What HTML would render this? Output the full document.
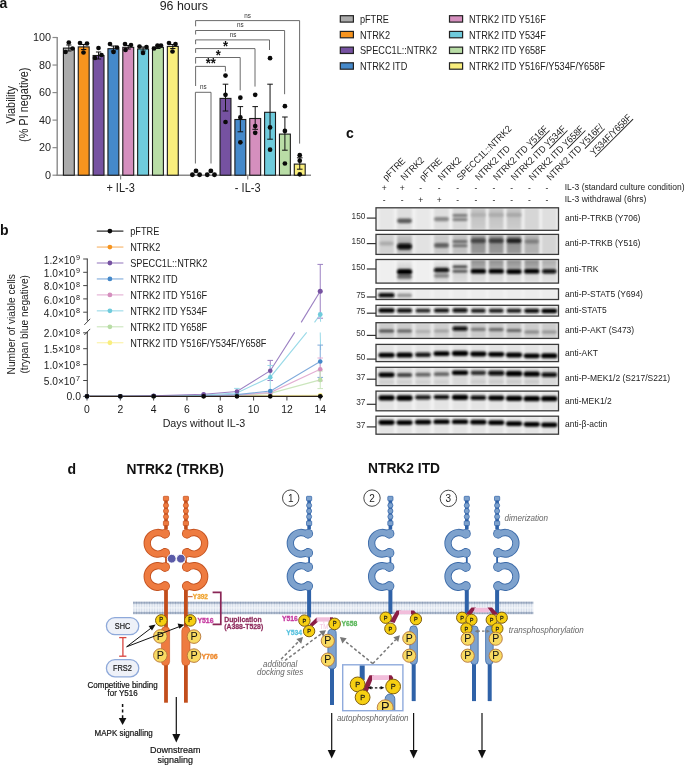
<!DOCTYPE html>
<html><head><meta charset="utf-8"><title>Figure</title><style>
html,body{margin:0;padding:0;background:#fff;}
svg{display:block;opacity:0.999;font-family:"Liberation Sans",sans-serif;}
</style></head><body>
<svg width="685" height="765" viewBox="0 0 685 765">
<defs>
<filter id="bl1" x="-20%" y="-20%" width="140%" height="140%"><feGaussianBlur stdDeviation="1.1"/></filter>
<filter id="bl2" x="-20%" y="-50%" width="140%" height="200%"><feGaussianBlur stdDeviation="0.85"/></filter>
<pattern id="memb" x="0" y="601.6" width="2.6" height="12.6" patternUnits="userSpaceOnUse"><rect width="2.6" height="12.6" fill="#EDF1F7"/><rect x="0" y="5.9" width="2.6" height="0.9" fill="#F7F9FC"/><rect x="0.85" y="2" width="0.9" height="3.9" fill="#D3DCE9"/><rect x="0.85" y="6.8" width="0.9" height="3.8" fill="#D3DCE9"/><rect x="0" y="0.3" width="2.6" height="1.8" fill="#B6C2D4"/><rect x="0" y="10.5" width="2.6" height="1.8" fill="#B6C2D4"/><circle cx="1.3" cy="1.2" r="1.05" fill="#8495B0"/><circle cx="1.3" cy="11.4" r="1.05" fill="#8495B0"/></pattern>
<clipPath id="cr0"><rect x="376.0" y="207.8" width="182.5" height="22.5"/></clipPath>
<clipPath id="cr1"><rect x="376.0" y="234.4" width="182.5" height="20.0"/></clipPath>
<clipPath id="cr2"><rect x="376.0" y="259.5" width="182.5" height="23.600000000000023"/></clipPath>
<clipPath id="cr3"><rect x="376.0" y="288.8" width="182.5" height="10.699999999999989"/></clipPath>
<clipPath id="cr4"><rect x="376.0" y="305.3" width="182.5" height="10.800000000000011"/></clipPath>
<clipPath id="cr5"><rect x="376.0" y="322.7" width="182.5" height="15.699999999999989"/></clipPath>
<clipPath id="cr6"><rect x="376.0" y="344.4" width="182.5" height="17.200000000000045"/></clipPath>
<clipPath id="cr7"><rect x="376.0" y="367.3" width="182.5" height="18.30000000000001"/></clipPath>
<clipPath id="cr8"><rect x="376.0" y="391.1" width="182.5" height="19.69999999999999"/></clipPath>
<clipPath id="cr9"><rect x="376.0" y="416.2" width="182.5" height="18.0"/></clipPath>
<linearGradient id="g0_5" x1="0" y1="0" x2="0" y2="1"><stop offset="0" stop-color="#c4c4c4"/><stop offset="0.3" stop-color="#c2c2c2"/><stop offset="1" stop-color="#cdcdcd"/></linearGradient>
<linearGradient id="g0_6" x1="0" y1="0" x2="0" y2="1"><stop offset="0" stop-color="#c4c4c4"/><stop offset="0.3" stop-color="#c2c2c2"/><stop offset="1" stop-color="#cdcdcd"/></linearGradient>
<linearGradient id="g0_7" x1="0" y1="0" x2="0" y2="1"><stop offset="0" stop-color="#c4c4c4"/><stop offset="0.3" stop-color="#c2c2c2"/><stop offset="1" stop-color="#cdcdcd"/></linearGradient>
<linearGradient id="g1_1" x1="0" y1="0" x2="0" y2="1"><stop offset="0" stop-color="#c8c8c8"/><stop offset="0.5" stop-color="#a8a8a8"/><stop offset="1" stop-color="#c4c4c4"/></linearGradient>
<linearGradient id="g1_5" x1="0" y1="0" x2="0" y2="1"><stop offset="0" stop-color="#a2a2a2"/><stop offset="0.35" stop-color="#8c8c8c"/><stop offset="1" stop-color="#9c9c9c"/></linearGradient>
<linearGradient id="g1_6" x1="0" y1="0" x2="0" y2="1"><stop offset="0" stop-color="#a2a2a2"/><stop offset="0.35" stop-color="#8c8c8c"/><stop offset="1" stop-color="#9c9c9c"/></linearGradient>
<linearGradient id="g1_7" x1="0" y1="0" x2="0" y2="1"><stop offset="0" stop-color="#a2a2a2"/><stop offset="0.35" stop-color="#8c8c8c"/><stop offset="1" stop-color="#9c9c9c"/></linearGradient>
<linearGradient id="g2_1" x1="0" y1="0" x2="0" y2="1"><stop offset="0" stop-color="#ececec"/><stop offset="0.4" stop-color="#cfcfcf"/><stop offset="1" stop-color="#dedede"/></linearGradient>
<linearGradient id="g2_3" x1="0" y1="0" x2="0" y2="1"><stop offset="0" stop-color="#ececec"/><stop offset="0.4" stop-color="#cfcfcf"/><stop offset="1" stop-color="#dedede"/></linearGradient>
<linearGradient id="g2_4" x1="0" y1="0" x2="0" y2="1"><stop offset="0" stop-color="#ececec"/><stop offset="0.4" stop-color="#cfcfcf"/><stop offset="1" stop-color="#dedede"/></linearGradient>
<linearGradient id="g2_5" x1="0" y1="0" x2="0" y2="1"><stop offset="0" stop-color="#8e8e8e"/><stop offset="0.3" stop-color="#a6a6a6"/><stop offset="0.48" stop-color="#c0c0c0"/><stop offset="0.62" stop-color="#d6d6d6"/><stop offset="1" stop-color="#e2e2e2"/></linearGradient>
<linearGradient id="g2_6" x1="0" y1="0" x2="0" y2="1"><stop offset="0" stop-color="#8e8e8e"/><stop offset="0.3" stop-color="#a6a6a6"/><stop offset="0.48" stop-color="#c0c0c0"/><stop offset="0.62" stop-color="#d6d6d6"/><stop offset="1" stop-color="#e2e2e2"/></linearGradient>
<linearGradient id="g2_7" x1="0" y1="0" x2="0" y2="1"><stop offset="0" stop-color="#8e8e8e"/><stop offset="0.3" stop-color="#a6a6a6"/><stop offset="0.48" stop-color="#c0c0c0"/><stop offset="0.62" stop-color="#d6d6d6"/><stop offset="1" stop-color="#e2e2e2"/></linearGradient>
<linearGradient id="g2_8" x1="0" y1="0" x2="0" y2="1"><stop offset="0" stop-color="#8e8e8e"/><stop offset="0.3" stop-color="#a6a6a6"/><stop offset="0.48" stop-color="#c0c0c0"/><stop offset="0.62" stop-color="#d6d6d6"/><stop offset="1" stop-color="#e2e2e2"/></linearGradient>
<linearGradient id="g2_9" x1="0" y1="0" x2="0" y2="1"><stop offset="0" stop-color="#aaaaaa"/><stop offset="0.3" stop-color="#bcbcbc"/><stop offset="0.48" stop-color="#cccccc"/><stop offset="0.62" stop-color="#dcdcdc"/><stop offset="1" stop-color="#e4e4e4"/></linearGradient>
</defs>
<rect width="685" height="765" fill="#fff"/>
<text x="-0.6" y="7.9" font-size="14" font-weight="bold" fill="#111">a</text>
<text transform="translate(183.80,10.40) scale(0.92,1)" font-size="13.48" text-anchor="middle" fill="#222">96 hours</text>
<line x1="57.2" y1="37.0" x2="57.2" y2="175.9" stroke="#8a8a8a" stroke-width="1.4"/>
<line x1="56.5" y1="175.2" x2="311" y2="175.2" stroke="#8a8a8a" stroke-width="1.4"/>
<line x1="52.5" y1="175.2" x2="57.2" y2="175.2" stroke="#8a8a8a" stroke-width="1.2"/>
<text x="50.9" y="179.0" font-size="10.8" text-anchor="end" fill="#222">0</text>
<line x1="52.5" y1="147.66" x2="57.2" y2="147.66" stroke="#8a8a8a" stroke-width="1.2"/>
<text x="50.9" y="151.46" font-size="10.8" text-anchor="end" fill="#222">20</text>
<line x1="52.5" y1="120.11999999999999" x2="57.2" y2="120.11999999999999" stroke="#8a8a8a" stroke-width="1.2"/>
<text x="50.9" y="123.91999999999999" font-size="10.8" text-anchor="end" fill="#222">40</text>
<line x1="52.5" y1="92.57999999999998" x2="57.2" y2="92.57999999999998" stroke="#8a8a8a" stroke-width="1.2"/>
<text x="50.9" y="96.37999999999998" font-size="10.8" text-anchor="end" fill="#222">60</text>
<line x1="52.5" y1="65.03999999999999" x2="57.2" y2="65.03999999999999" stroke="#8a8a8a" stroke-width="1.2"/>
<text x="50.9" y="68.83999999999999" font-size="10.8" text-anchor="end" fill="#222">80</text>
<line x1="52.5" y1="37.5" x2="57.2" y2="37.5" stroke="#8a8a8a" stroke-width="1.2"/>
<text x="50.9" y="41.3" font-size="10.8" text-anchor="end" fill="#222">100</text>
<line x1="120.6" y1="175.2" x2="120.6" y2="179.5" stroke="#8a8a8a" stroke-width="1.2"/>
<line x1="247.7" y1="175.2" x2="247.7" y2="179.5" stroke="#8a8a8a" stroke-width="1.2"/>
<text transform="translate(120.60,191.70) scale(0.92,1)" font-size="11.96" text-anchor="middle" fill="#222">+ IL-3</text>
<text transform="translate(247.70,191.70) scale(0.92,1)" font-size="11.96" text-anchor="middle" fill="#222">- IL-3</text>
<text transform="translate(15.00,104.75) rotate(-90) scale(0.92,1)" font-size="11.85" text-anchor="middle" fill="#222">Viability</text>
<text transform="translate(27.80,104.75) rotate(-90) scale(0.92,1)" font-size="11.85" text-anchor="middle" fill="#222">(% PI negative)</text>
<rect x="63.39999999999999" y="48.1" width="10.9" height="127.1" fill="#ABABAB" stroke="#1a1a1a" stroke-width="1.1"/>
<rect x="78.24999999999999" y="46.9" width="10.9" height="128.29999999999998" fill="#F7941E" stroke="#1a1a1a" stroke-width="1.1"/>
<rect x="93.1" y="55.5" width="10.9" height="119.69999999999999" fill="#7652A1" stroke="#1a1a1a" stroke-width="1.1"/>
<rect x="107.94999999999999" y="48.7" width="10.9" height="126.49999999999999" fill="#4589CA" stroke="#1a1a1a" stroke-width="1.1"/>
<rect x="122.8" y="47.3" width="10.9" height="127.89999999999999" fill="#D58FBE" stroke="#1a1a1a" stroke-width="1.1"/>
<rect x="137.65" y="49.0" width="10.9" height="126.19999999999999" fill="#6FCBDC" stroke="#1a1a1a" stroke-width="1.1"/>
<rect x="152.5" y="47.3" width="10.9" height="127.89999999999999" fill="#B9DDA6" stroke="#1a1a1a" stroke-width="1.1"/>
<rect x="167.35000000000002" y="46.4" width="10.9" height="128.79999999999998" fill="#F9EE7D" stroke="#1a1a1a" stroke-width="1.1"/>
<line x1="68.85" y1="45" x2="68.85" y2="51" stroke="#111" stroke-width="1"/>
<line x1="66.25" y1="45" x2="71.44999999999999" y2="45" stroke="#111" stroke-width="1"/>
<line x1="66.25" y1="51" x2="71.44999999999999" y2="51" stroke="#111" stroke-width="1"/>
<circle cx="68.8" cy="42.5" r="2.35" fill="#0a0a0a" stroke="none" stroke-width="1"/>
<circle cx="72.5" cy="48.5" r="2.35" fill="#0a0a0a" stroke="none" stroke-width="1"/>
<circle cx="65.5" cy="52" r="2.35" fill="#0a0a0a" stroke="none" stroke-width="1"/>
<line x1="83.69999999999999" y1="44.5" x2="83.69999999999999" y2="49.5" stroke="#111" stroke-width="1"/>
<line x1="81.1" y1="44.5" x2="86.29999999999998" y2="44.5" stroke="#111" stroke-width="1"/>
<line x1="81.1" y1="49.5" x2="86.29999999999998" y2="49.5" stroke="#111" stroke-width="1"/>
<circle cx="80" cy="43" r="2.35" fill="#0a0a0a" stroke="none" stroke-width="1"/>
<circle cx="87" cy="43.5" r="2.35" fill="#0a0a0a" stroke="none" stroke-width="1"/>
<circle cx="83.5" cy="52.5" r="2.35" fill="#0a0a0a" stroke="none" stroke-width="1"/>
<line x1="98.55" y1="52" x2="98.55" y2="59" stroke="#111" stroke-width="1"/>
<line x1="95.95" y1="52" x2="101.14999999999999" y2="52" stroke="#111" stroke-width="1"/>
<line x1="95.95" y1="59" x2="101.14999999999999" y2="59" stroke="#111" stroke-width="1"/>
<circle cx="98.5" cy="48" r="2.35" fill="#0a0a0a" stroke="none" stroke-width="1"/>
<circle cx="101.5" cy="55" r="2.35" fill="#0a0a0a" stroke="none" stroke-width="1"/>
<circle cx="95" cy="58" r="2.35" fill="#0a0a0a" stroke="none" stroke-width="1"/>
<line x1="113.39999999999999" y1="46" x2="113.39999999999999" y2="51" stroke="#111" stroke-width="1"/>
<line x1="110.8" y1="46" x2="115.99999999999999" y2="46" stroke="#111" stroke-width="1"/>
<line x1="110.8" y1="51" x2="115.99999999999999" y2="51" stroke="#111" stroke-width="1"/>
<circle cx="110" cy="44" r="2.35" fill="#0a0a0a" stroke="none" stroke-width="1"/>
<circle cx="117" cy="47.5" r="2.35" fill="#0a0a0a" stroke="none" stroke-width="1"/>
<circle cx="113.5" cy="52" r="2.35" fill="#0a0a0a" stroke="none" stroke-width="1"/>
<line x1="128.25" y1="45.5" x2="128.25" y2="49" stroke="#111" stroke-width="1"/>
<line x1="125.65" y1="45.5" x2="130.85" y2="45.5" stroke="#111" stroke-width="1"/>
<line x1="125.65" y1="49" x2="130.85" y2="49" stroke="#111" stroke-width="1"/>
<circle cx="125" cy="44" r="2.35" fill="#0a0a0a" stroke="none" stroke-width="1"/>
<circle cx="131" cy="45" r="2.35" fill="#0a0a0a" stroke="none" stroke-width="1"/>
<circle cx="125.5" cy="50" r="2.35" fill="#0a0a0a" stroke="none" stroke-width="1"/>
<line x1="143.1" y1="47" x2="143.1" y2="51" stroke="#111" stroke-width="1"/>
<line x1="140.5" y1="47" x2="145.7" y2="47" stroke="#111" stroke-width="1"/>
<line x1="140.5" y1="51" x2="145.7" y2="51" stroke="#111" stroke-width="1"/>
<circle cx="139.5" cy="46.5" r="2.35" fill="#0a0a0a" stroke="none" stroke-width="1"/>
<circle cx="146.5" cy="47" r="2.35" fill="#0a0a0a" stroke="none" stroke-width="1"/>
<circle cx="143" cy="53" r="2.35" fill="#0a0a0a" stroke="none" stroke-width="1"/>
<line x1="157.95" y1="46" x2="157.95" y2="48.5" stroke="#111" stroke-width="1"/>
<line x1="155.35" y1="46" x2="160.54999999999998" y2="46" stroke="#111" stroke-width="1"/>
<line x1="155.35" y1="48.5" x2="160.54999999999998" y2="48.5" stroke="#111" stroke-width="1"/>
<circle cx="154" cy="48.5" r="2.35" fill="#0a0a0a" stroke="none" stroke-width="1"/>
<circle cx="157.5" cy="45.5" r="2.35" fill="#0a0a0a" stroke="none" stroke-width="1"/>
<circle cx="161" cy="45.5" r="2.35" fill="#0a0a0a" stroke="none" stroke-width="1"/>
<line x1="172.8" y1="44.5" x2="172.8" y2="48.5" stroke="#111" stroke-width="1"/>
<line x1="170.20000000000002" y1="44.5" x2="175.4" y2="44.5" stroke="#111" stroke-width="1"/>
<line x1="170.20000000000002" y1="48.5" x2="175.4" y2="48.5" stroke="#111" stroke-width="1"/>
<circle cx="169" cy="43" r="2.35" fill="#0a0a0a" stroke="none" stroke-width="1"/>
<circle cx="175.5" cy="44" r="2.35" fill="#0a0a0a" stroke="none" stroke-width="1"/>
<circle cx="172.5" cy="51.5" r="2.35" fill="#0a0a0a" stroke="none" stroke-width="1"/>
<rect x="220.05" y="98.4" width="10.9" height="76.79999999999998" fill="#7652A1" stroke="#1a1a1a" stroke-width="1.1"/>
<rect x="234.90000000000003" y="119.5" width="10.9" height="55.69999999999999" fill="#4589CA" stroke="#1a1a1a" stroke-width="1.1"/>
<rect x="249.75000000000003" y="118.5" width="10.9" height="56.69999999999999" fill="#D58FBE" stroke="#1a1a1a" stroke-width="1.1"/>
<rect x="264.6" y="112.3" width="10.9" height="62.89999999999999" fill="#6FCBDC" stroke="#1a1a1a" stroke-width="1.1"/>
<rect x="279.45" y="134.1" width="10.9" height="41.099999999999994" fill="#B9DDA6" stroke="#1a1a1a" stroke-width="1.1"/>
<rect x="294.3" y="164.1" width="10.9" height="11.099999999999994" fill="#F9EE7D" stroke="#1a1a1a" stroke-width="1.1"/>
<circle cx="192.4" cy="174.8" r="2.45" fill="#0a0a0a" stroke="none" stroke-width="1"/>
<circle cx="196.0" cy="170.9" r="2.45" fill="#0a0a0a" stroke="none" stroke-width="1"/>
<circle cx="199.6" cy="174.8" r="2.45" fill="#0a0a0a" stroke="none" stroke-width="1"/>
<circle cx="207.25" cy="174.8" r="2.45" fill="#0a0a0a" stroke="none" stroke-width="1"/>
<circle cx="210.85" cy="170.9" r="2.45" fill="#0a0a0a" stroke="none" stroke-width="1"/>
<circle cx="214.45" cy="174.8" r="2.45" fill="#0a0a0a" stroke="none" stroke-width="1"/>
<line x1="225.5" y1="84.2" x2="225.5" y2="111" stroke="#111" stroke-width="1"/>
<line x1="222.7" y1="84.2" x2="228.3" y2="84.2" stroke="#111" stroke-width="1"/>
<line x1="222.7" y1="111" x2="228.3" y2="111" stroke="#111" stroke-width="1"/>
<circle cx="225.5" cy="75.6" r="2.35" fill="#0a0a0a" stroke="none" stroke-width="1"/>
<circle cx="225.5" cy="94.8" r="2.35" fill="#0a0a0a" stroke="none" stroke-width="1"/>
<circle cx="225.5" cy="122" r="2.35" fill="#0a0a0a" stroke="none" stroke-width="1"/>
<line x1="240.35000000000002" y1="106.6" x2="240.35000000000002" y2="131.8" stroke="#111" stroke-width="1"/>
<line x1="237.55" y1="106.6" x2="243.15000000000003" y2="106.6" stroke="#111" stroke-width="1"/>
<line x1="237.55" y1="131.8" x2="243.15000000000003" y2="131.8" stroke="#111" stroke-width="1"/>
<circle cx="240.35000000000002" cy="97.7" r="2.35" fill="#0a0a0a" stroke="none" stroke-width="1"/>
<circle cx="240.35000000000002" cy="117.4" r="2.35" fill="#0a0a0a" stroke="none" stroke-width="1"/>
<circle cx="240.35000000000002" cy="142.3" r="2.35" fill="#0a0a0a" stroke="none" stroke-width="1"/>
<line x1="255.20000000000002" y1="106.6" x2="255.20000000000002" y2="129.3" stroke="#111" stroke-width="1"/>
<line x1="252.4" y1="106.6" x2="258.0" y2="106.6" stroke="#111" stroke-width="1"/>
<line x1="252.4" y1="129.3" x2="258.0" y2="129.3" stroke="#111" stroke-width="1"/>
<circle cx="255.20000000000002" cy="94.8" r="2.35" fill="#0a0a0a" stroke="none" stroke-width="1"/>
<circle cx="255.20000000000002" cy="126" r="2.35" fill="#0a0a0a" stroke="none" stroke-width="1"/>
<circle cx="255.20000000000002" cy="132.8" r="2.35" fill="#0a0a0a" stroke="none" stroke-width="1"/>
<line x1="270.05" y1="84.2" x2="270.05" y2="139.2" stroke="#111" stroke-width="1"/>
<line x1="267.25" y1="84.2" x2="272.85" y2="84.2" stroke="#111" stroke-width="1"/>
<line x1="267.25" y1="139.2" x2="272.85" y2="139.2" stroke="#111" stroke-width="1"/>
<circle cx="270.05" cy="58.2" r="2.35" fill="#0a0a0a" stroke="none" stroke-width="1"/>
<circle cx="270.05" cy="127.4" r="2.35" fill="#0a0a0a" stroke="none" stroke-width="1"/>
<circle cx="270.05" cy="149.7" r="2.35" fill="#0a0a0a" stroke="none" stroke-width="1"/>
<line x1="284.9" y1="117" x2="284.9" y2="150.2" stroke="#111" stroke-width="1"/>
<line x1="282.09999999999997" y1="117" x2="287.7" y2="117" stroke="#111" stroke-width="1"/>
<line x1="282.09999999999997" y1="150.2" x2="287.7" y2="150.2" stroke="#111" stroke-width="1"/>
<circle cx="284.9" cy="106.2" r="2.35" fill="#0a0a0a" stroke="none" stroke-width="1"/>
<circle cx="284.9" cy="130.9" r="2.35" fill="#0a0a0a" stroke="none" stroke-width="1"/>
<circle cx="284.9" cy="163.5" r="2.35" fill="#0a0a0a" stroke="none" stroke-width="1"/>
<line x1="299.75" y1="157.8" x2="299.75" y2="169.2" stroke="#111" stroke-width="1"/>
<line x1="296.95" y1="157.8" x2="302.55" y2="157.8" stroke="#111" stroke-width="1"/>
<line x1="296.95" y1="169.2" x2="302.55" y2="169.2" stroke="#111" stroke-width="1"/>
<circle cx="299.75" cy="155.2" r="2.35" fill="#0a0a0a" stroke="none" stroke-width="1"/>
<circle cx="299.75" cy="160.7" r="2.35" fill="#0a0a0a" stroke="none" stroke-width="1"/>
<circle cx="299.75" cy="174.3" r="2.35" fill="#0a0a0a" stroke="none" stroke-width="1"/>
<path d="M195.6 26.3 L195.6 20.6 L299.6 20.6 L299.6 143.6" fill="none" stroke="#5a5a5a" stroke-width="0.9"/>
<path d="M195.6 34.5 L195.6 30.5 L284.6 30.5 L284.6 94.2" fill="none" stroke="#5a5a5a" stroke-width="0.9"/>
<path d="M195.6 44.2 L195.6 39.9 L269.5 39.9 L269.5 50.0" fill="none" stroke="#5a5a5a" stroke-width="0.9"/>
<path d="M195.6 52.9 L195.6 48.6 L255.0 48.6 L255.0 86.6" fill="none" stroke="#5a5a5a" stroke-width="0.9"/>
<path d="M195.6 63.6 L195.6 57.5 L240.2 57.5 L240.2 90.4" fill="none" stroke="#5a5a5a" stroke-width="0.9"/>
<path d="M195.6 86.0 L195.6 66.4 L225.4 66.4 L225.4 71.5" fill="none" stroke="#5a5a5a" stroke-width="0.9"/>
<path d="M195.4 163.5 L195.4 92.3 L211 92.3 L211 163.5" fill="none" stroke="#5a5a5a" stroke-width="0.9"/>
<text transform="translate(247.50,17.70) scale(0.92,1)" font-size="6.85" text-anchor="middle" fill="#333">ns</text>
<text transform="translate(240.40,26.90) scale(0.92,1)" font-size="6.85" text-anchor="middle" fill="#333">ns</text>
<text transform="translate(233.10,36.60) scale(0.92,1)" font-size="6.85" text-anchor="middle" fill="#333">ns</text>
<text transform="translate(203.30,89.00) scale(0.92,1)" font-size="6.85" text-anchor="middle" fill="#333">ns</text>
<text transform="translate(225.50,51.20) scale(0.92,1)" font-size="14.13" text-anchor="middle" font-weight="bold" fill="#111">*</text>
<text transform="translate(218.20,60.00) scale(0.92,1)" font-size="14.13" text-anchor="middle" font-weight="bold" fill="#111">*</text>
<text transform="translate(210.70,68.10) scale(0.92,1)" font-size="14.13" text-anchor="middle" font-weight="bold" fill="#111">**</text>
<rect x="340.3" y="15.7" width="13.1" height="6.4" fill="#ABABAB" stroke="#222" stroke-width="1.2"/>
<text transform="translate(359.90,23.00) scale(0.92,1)" font-size="10.00" fill="#222">pFTRE</text>
<rect x="340.3" y="31.399999999999995" width="13.1" height="6.4" fill="#F7941E" stroke="#222" stroke-width="1.2"/>
<text transform="translate(359.90,38.70) scale(0.92,1)" font-size="10.00" fill="#222">NTRK2</text>
<rect x="340.3" y="47.099999999999994" width="13.1" height="6.4" fill="#7652A1" stroke="#222" stroke-width="1.2"/>
<text transform="translate(359.90,54.40) scale(0.92,1)" font-size="10.00" fill="#222">SPECC1L::NTRK2</text>
<rect x="340.3" y="62.8" width="13.1" height="6.4" fill="#4589CA" stroke="#222" stroke-width="1.2"/>
<text transform="translate(359.90,70.10) scale(0.92,1)" font-size="10.00" fill="#222">NTRK2 ITD</text>
<rect x="449.5" y="15.7" width="13.1" height="6.4" fill="#D58FBE" stroke="#222" stroke-width="1.2"/>
<text transform="translate(468.90,23.00) scale(0.92,1)" font-size="10.00" fill="#222">NTRK2 ITD Y516F</text>
<rect x="449.5" y="31.399999999999995" width="13.1" height="6.4" fill="#6FCBDC" stroke="#222" stroke-width="1.2"/>
<text transform="translate(468.90,38.70) scale(0.92,1)" font-size="10.00" fill="#222">NTRK2 ITD Y534F</text>
<rect x="449.5" y="47.099999999999994" width="13.1" height="6.4" fill="#B9DDA6" stroke="#222" stroke-width="1.2"/>
<text transform="translate(468.90,54.40) scale(0.92,1)" font-size="10.00" fill="#222">NTRK2 ITD Y658F</text>
<rect x="449.5" y="62.8" width="13.1" height="6.4" fill="#F9EE7D" stroke="#222" stroke-width="1.2"/>
<text transform="translate(468.90,70.10) scale(0.92,1)" font-size="10.00" fill="#222">NTRK2 ITD Y516F/Y534F/Y658F</text>
<text x="0" y="234.7" font-size="14" font-weight="bold" fill="#111">b</text>
<line x1="87.3" y1="258.6" x2="87.3" y2="320.8" stroke="#444" stroke-width="1.1"/>
<line x1="87.3" y1="331.6" x2="87.3" y2="396.8" stroke="#444" stroke-width="1.1"/>
<line x1="84.3" y1="324.9" x2="90.2" y2="318.8" stroke="#444" stroke-width="1.0"/>
<line x1="84.3" y1="335.0" x2="90.2" y2="328.9" stroke="#444" stroke-width="1.0"/>
<line x1="83.2" y1="259.0" x2="87.3" y2="259.0" stroke="#444" stroke-width="1.0"/>
<text transform="translate(75.20,263.60) scale(0.92,1)" font-size="11.09" text-anchor="end" fill="#222">1.2×10</text>
<text transform="translate(75.90,259.90) scale(0.92,1)" font-size="7.93" fill="#222">9</text>
<line x1="83.2" y1="272.3" x2="87.3" y2="272.3" stroke="#444" stroke-width="1.0"/>
<text transform="translate(75.20,276.90) scale(0.92,1)" font-size="11.09" text-anchor="end" fill="#222">1.0×10</text>
<text transform="translate(75.90,273.20) scale(0.92,1)" font-size="7.93" fill="#222">9</text>
<line x1="83.2" y1="285.6" x2="87.3" y2="285.6" stroke="#444" stroke-width="1.0"/>
<text transform="translate(75.20,290.20) scale(0.92,1)" font-size="11.09" text-anchor="end" fill="#222">8.0×10</text>
<text transform="translate(75.90,286.50) scale(0.92,1)" font-size="7.93" fill="#222">8</text>
<line x1="83.2" y1="298.9" x2="87.3" y2="298.9" stroke="#444" stroke-width="1.0"/>
<text transform="translate(75.20,303.50) scale(0.92,1)" font-size="11.09" text-anchor="end" fill="#222">6.0×10</text>
<text transform="translate(75.90,299.80) scale(0.92,1)" font-size="7.93" fill="#222">8</text>
<line x1="83.2" y1="312.2" x2="87.3" y2="312.2" stroke="#444" stroke-width="1.0"/>
<text transform="translate(75.20,316.80) scale(0.92,1)" font-size="11.09" text-anchor="end" fill="#222">4.0×10</text>
<text transform="translate(75.90,313.10) scale(0.92,1)" font-size="7.93" fill="#222">8</text>
<line x1="83.2" y1="332.8" x2="87.3" y2="332.8" stroke="#444" stroke-width="1.0"/>
<text transform="translate(75.20,337.40) scale(0.92,1)" font-size="11.09" text-anchor="end" fill="#222">2.0×10</text>
<text transform="translate(75.90,333.70) scale(0.92,1)" font-size="7.93" fill="#222">8</text>
<line x1="83.2" y1="348.7" x2="87.3" y2="348.7" stroke="#444" stroke-width="1.0"/>
<text transform="translate(75.20,353.30) scale(0.92,1)" font-size="11.09" text-anchor="end" fill="#222">1.5×10</text>
<text transform="translate(75.90,349.60) scale(0.92,1)" font-size="7.93" fill="#222">8</text>
<line x1="83.2" y1="364.6" x2="87.3" y2="364.6" stroke="#444" stroke-width="1.0"/>
<text transform="translate(75.20,369.20) scale(0.92,1)" font-size="11.09" text-anchor="end" fill="#222">1.0×10</text>
<text transform="translate(75.90,365.50) scale(0.92,1)" font-size="7.93" fill="#222">8</text>
<line x1="83.2" y1="380.5" x2="87.3" y2="380.5" stroke="#444" stroke-width="1.0"/>
<text transform="translate(75.20,385.10) scale(0.92,1)" font-size="11.09" text-anchor="end" fill="#222">5.0×10</text>
<text transform="translate(75.90,381.40) scale(0.92,1)" font-size="7.93" fill="#222">7</text>
<line x1="83.2" y1="396.4" x2="87.3" y2="396.4" stroke="#444" stroke-width="1.0"/>
<text transform="translate(81.00,399.90) scale(0.92,1)" font-size="11.30" text-anchor="end" fill="#222">0.0</text>
<line x1="86.8" y1="396.4" x2="322.5" y2="396.4" stroke="#2b2018" stroke-width="1.2"/>
<line x1="87.0" y1="396.4" x2="87.0" y2="400.5" stroke="#444" stroke-width="1.0"/>
<text transform="translate(87.00,412.60) scale(0.92,1)" font-size="11.30" text-anchor="middle" fill="#1a1a1a">0</text>
<line x1="120.32" y1="396.4" x2="120.32" y2="400.5" stroke="#444" stroke-width="1.0"/>
<text transform="translate(120.32,412.60) scale(0.92,1)" font-size="11.30" text-anchor="middle" fill="#1a1a1a">2</text>
<line x1="153.64" y1="396.4" x2="153.64" y2="400.5" stroke="#444" stroke-width="1.0"/>
<text transform="translate(153.64,412.60) scale(0.92,1)" font-size="11.30" text-anchor="middle" fill="#1a1a1a">4</text>
<line x1="186.96" y1="396.4" x2="186.96" y2="400.5" stroke="#444" stroke-width="1.0"/>
<text transform="translate(186.96,412.60) scale(0.92,1)" font-size="11.30" text-anchor="middle" fill="#1a1a1a">6</text>
<line x1="220.28" y1="396.4" x2="220.28" y2="400.5" stroke="#444" stroke-width="1.0"/>
<text transform="translate(220.28,412.60) scale(0.92,1)" font-size="11.30" text-anchor="middle" fill="#1a1a1a">8</text>
<line x1="253.6" y1="396.4" x2="253.6" y2="400.5" stroke="#444" stroke-width="1.0"/>
<text transform="translate(253.60,412.60) scale(0.92,1)" font-size="11.30" text-anchor="middle" fill="#1a1a1a">10</text>
<line x1="286.92" y1="396.4" x2="286.92" y2="400.5" stroke="#444" stroke-width="1.0"/>
<text transform="translate(286.92,412.60) scale(0.92,1)" font-size="11.30" text-anchor="middle" fill="#1a1a1a">12</text>
<line x1="320.24" y1="396.4" x2="320.24" y2="400.5" stroke="#444" stroke-width="1.0"/>
<text transform="translate(320.24,412.60) scale(0.92,1)" font-size="11.30" text-anchor="middle" fill="#1a1a1a">14</text>
<text transform="translate(203.90,427.30) scale(0.92,1)" font-size="11.63" text-anchor="middle" fill="#1a1a1a">Days without IL-3</text>
<text transform="translate(14.60,324.30) rotate(-90) scale(0.92,1)" font-size="11.09" text-anchor="middle" fill="#222">Number of viable cells</text>
<text transform="translate(28.20,324.30) rotate(-90) scale(0.92,1)" font-size="11.09" text-anchor="middle" fill="#222">(trypan blue negative)</text>
<line x1="96.8" y1="231.1" x2="123.4" y2="231.1" stroke="#111" stroke-width="1.1"/>
<circle cx="109.9" cy="231.1" r="2.4" fill="#0a0a0a" stroke="none" stroke-width="1"/>
<text transform="translate(130.20,235.10) scale(0.92,1)" font-size="10.00" fill="#222">pFTRE</text>
<line x1="96.8" y1="247.04999999999998" x2="123.4" y2="247.04999999999998" stroke="#F7B266" stroke-width="1.1"/>
<circle cx="109.9" cy="247.04999999999998" r="2.4" fill="#F7941E" stroke="none" stroke-width="1"/>
<text transform="translate(130.20,251.05) scale(0.92,1)" font-size="10.00" fill="#222">NTRK2</text>
<line x1="96.8" y1="263.0" x2="123.4" y2="263.0" stroke="#9B80C2" stroke-width="1.1"/>
<circle cx="109.9" cy="263.0" r="2.4" fill="#7652A1" stroke="none" stroke-width="1"/>
<text transform="translate(130.20,267.00) scale(0.92,1)" font-size="10.00" fill="#222">SPECC1L::NTRK2</text>
<line x1="96.8" y1="278.95" x2="123.4" y2="278.95" stroke="#7FAADB" stroke-width="1.1"/>
<circle cx="109.9" cy="278.95" r="2.4" fill="#4589CA" stroke="none" stroke-width="1"/>
<text transform="translate(130.20,282.95) scale(0.92,1)" font-size="10.00" fill="#222">NTRK2 ITD</text>
<line x1="96.8" y1="294.9" x2="123.4" y2="294.9" stroke="#E3AED3" stroke-width="1.1"/>
<circle cx="109.9" cy="294.9" r="2.4" fill="#D58FBE" stroke="none" stroke-width="1"/>
<text transform="translate(130.20,298.90) scale(0.92,1)" font-size="10.00" fill="#222">NTRK2 ITD Y516F</text>
<line x1="96.8" y1="310.85" x2="123.4" y2="310.85" stroke="#9ADAE8" stroke-width="1.1"/>
<circle cx="109.9" cy="310.85" r="2.4" fill="#6FCBDC" stroke="none" stroke-width="1"/>
<text transform="translate(130.20,314.85) scale(0.92,1)" font-size="10.00" fill="#222">NTRK2 ITD Y534F</text>
<line x1="96.8" y1="326.79999999999995" x2="123.4" y2="326.79999999999995" stroke="#CBE6BD" stroke-width="1.1"/>
<circle cx="109.9" cy="326.79999999999995" r="2.4" fill="#B9DDA6" stroke="none" stroke-width="1"/>
<text transform="translate(130.20,330.80) scale(0.92,1)" font-size="10.00" fill="#222">NTRK2 ITD Y658F</text>
<line x1="96.8" y1="342.75" x2="123.4" y2="342.75" stroke="#FAF1A6" stroke-width="1.1"/>
<circle cx="109.9" cy="342.75" r="2.4" fill="#F9EE7D" stroke="none" stroke-width="1"/>
<text transform="translate(130.20,346.75) scale(0.92,1)" font-size="10.00" fill="#222">NTRK2 ITD Y516F/Y534F/Y658F</text>
<polyline points="87.0,396.2 120.3,396.2 153.6,396.2 203.6,396.1 236.9,396.0 270.3,395.6 320.2,395.2" fill="none" stroke="#FAF1A6" stroke-width="1.1"/>
<polyline points="87.0,396.2 120.3,396.2 153.6,396.1 203.6,395.9 236.9,395.4 270.3,393.4 320.2,379.9" fill="none" stroke="#CBE6BD" stroke-width="1.1"/>
<polyline points="87.0,396.2 120.3,396.2 153.6,396.1 203.6,395.8 236.9,395.1 270.3,392.6 320.2,369.2" fill="none" stroke="#E3AED3" stroke-width="1.1"/>
<polyline points="87.0,396.2 120.3,396.2 153.6,396.0 203.6,395.5 236.9,394.6 270.3,391.1 320.2,361.5" fill="none" stroke="#7FAADB" stroke-width="1.1"/>
<polyline points="87.0,396.2 120.3,396.2 153.6,396.0 203.6,395.0 236.9,393.0 270.3,377.2 306.7,332.4" fill="none" stroke="#9ADAE8" stroke-width="1.1"/>
<polyline points="314.5,322.4 320.2,314.5" fill="none" stroke="#9ADAE8" stroke-width="1.1"/>
<polyline points="87.0,396.2 120.3,396.2 153.6,395.8 203.6,394.2 236.9,391.5 270.3,370.7 294.7,332.4" fill="none" stroke="#9B80C2" stroke-width="1.1"/>
<polyline points="301.2,322.4 320.2,291.2" fill="none" stroke="#9B80C2" stroke-width="1.1"/>
<line x1="320.24" y1="264.4" x2="320.24" y2="318.2" stroke="#9B80C2" stroke-width="1.0"/>
<line x1="317.44" y1="264.4" x2="323.04" y2="264.4" stroke="#9B80C2" stroke-width="1.0"/>
<line x1="317.44" y1="318.2" x2="323.04" y2="318.2" stroke="#9B80C2" stroke-width="1.0"/>
<line x1="270.26" y1="360.4" x2="270.26" y2="380.5" stroke="#9B80C2" stroke-width="1.0"/>
<line x1="267.46" y1="360.4" x2="273.06" y2="360.4" stroke="#9B80C2" stroke-width="1.0"/>
<line x1="267.46" y1="380.5" x2="273.06" y2="380.5" stroke="#9B80C2" stroke-width="1.0"/>
<line x1="270.26" y1="365.5" x2="270.26" y2="391.5" stroke="#9ADAE8" stroke-width="1.0"/>
<line x1="267.46" y1="365.5" x2="273.06" y2="365.5" stroke="#9ADAE8" stroke-width="1.0"/>
<line x1="267.46" y1="391.5" x2="273.06" y2="391.5" stroke="#9ADAE8" stroke-width="1.0"/>
<line x1="236.94" y1="388.4" x2="236.94" y2="394.5" stroke="#9ADAE8" stroke-width="1.0"/>
<line x1="234.14" y1="388.4" x2="239.74" y2="388.4" stroke="#9ADAE8" stroke-width="1.0"/>
<line x1="234.14" y1="394.5" x2="239.74" y2="394.5" stroke="#9ADAE8" stroke-width="1.0"/>
<line x1="320.24" y1="316" x2="320.6" y2="321.8" stroke="#9ADAE8" stroke-width="1.0"/>
<line x1="320.24" y1="332.5" x2="320.6" y2="350.0" stroke="#9ADAE8" stroke-width="1.0"/>
<line x1="320.24" y1="345.1" x2="320.24" y2="377.4" stroke="#7FAADB" stroke-width="1.0"/>
<line x1="317.44" y1="345.1" x2="323.04" y2="345.1" stroke="#7FAADB" stroke-width="1.0"/>
<line x1="317.44" y1="377.4" x2="323.04" y2="377.4" stroke="#7FAADB" stroke-width="1.0"/>
<line x1="320.24" y1="358.0" x2="320.24" y2="380.9" stroke="#E3AED3" stroke-width="1.0"/>
<line x1="317.44" y1="358.0" x2="323.04" y2="358.0" stroke="#E3AED3" stroke-width="1.0"/>
<line x1="317.44" y1="380.9" x2="323.04" y2="380.9" stroke="#E3AED3" stroke-width="1.0"/>
<line x1="320.24" y1="371.0" x2="320.24" y2="388.6" stroke="#CBE6BD" stroke-width="1.0"/>
<line x1="317.44" y1="371.0" x2="323.04" y2="371.0" stroke="#CBE6BD" stroke-width="1.0"/>
<line x1="317.44" y1="388.6" x2="323.04" y2="388.6" stroke="#CBE6BD" stroke-width="1.0"/>
<line x1="86.8" y1="396.4" x2="322.5" y2="396.4" stroke="#2b2018" stroke-width="1.2"/>
<circle cx="87.0" cy="396.2" r="2.3" fill="#F9EE7D" stroke="none" stroke-width="1"/>
<circle cx="120.32" cy="396.2" r="2.3" fill="#F9EE7D" stroke="none" stroke-width="1"/>
<circle cx="153.64" cy="396.2" r="2.3" fill="#F9EE7D" stroke="none" stroke-width="1"/>
<circle cx="203.62" cy="396.1" r="2.3" fill="#F9EE7D" stroke="none" stroke-width="1"/>
<circle cx="236.94" cy="396.0" r="2.3" fill="#F9EE7D" stroke="none" stroke-width="1"/>
<circle cx="270.26" cy="395.6" r="2.3" fill="#F9EE7D" stroke="none" stroke-width="1"/>
<circle cx="320.24" cy="395.2" r="2.3" fill="#F9EE7D" stroke="none" stroke-width="1"/>
<circle cx="87.0" cy="396.2" r="2.3" fill="#B9DDA6" stroke="none" stroke-width="1"/>
<circle cx="120.32" cy="396.2" r="2.3" fill="#B9DDA6" stroke="none" stroke-width="1"/>
<circle cx="153.64" cy="396.1" r="2.3" fill="#B9DDA6" stroke="none" stroke-width="1"/>
<circle cx="203.62" cy="395.9" r="2.3" fill="#B9DDA6" stroke="none" stroke-width="1"/>
<circle cx="236.94" cy="395.4" r="2.3" fill="#B9DDA6" stroke="none" stroke-width="1"/>
<circle cx="270.26" cy="393.4" r="2.3" fill="#B9DDA6" stroke="none" stroke-width="1"/>
<circle cx="320.24" cy="379.9" r="2.3" fill="#B9DDA6" stroke="none" stroke-width="1"/>
<circle cx="87.0" cy="396.2" r="2.3" fill="#D58FBE" stroke="none" stroke-width="1"/>
<circle cx="120.32" cy="396.2" r="2.3" fill="#D58FBE" stroke="none" stroke-width="1"/>
<circle cx="153.64" cy="396.1" r="2.3" fill="#D58FBE" stroke="none" stroke-width="1"/>
<circle cx="203.62" cy="395.8" r="2.3" fill="#D58FBE" stroke="none" stroke-width="1"/>
<circle cx="236.94" cy="395.1" r="2.3" fill="#D58FBE" stroke="none" stroke-width="1"/>
<circle cx="270.26" cy="392.6" r="2.3" fill="#D58FBE" stroke="none" stroke-width="1"/>
<circle cx="320.24" cy="369.2" r="2.3" fill="#D58FBE" stroke="none" stroke-width="1"/>
<circle cx="87.0" cy="396.2" r="2.3" fill="#4589CA" stroke="none" stroke-width="1"/>
<circle cx="120.32" cy="396.2" r="2.3" fill="#4589CA" stroke="none" stroke-width="1"/>
<circle cx="153.64" cy="396.0" r="2.3" fill="#4589CA" stroke="none" stroke-width="1"/>
<circle cx="203.62" cy="395.5" r="2.3" fill="#4589CA" stroke="none" stroke-width="1"/>
<circle cx="236.94" cy="394.6" r="2.3" fill="#4589CA" stroke="none" stroke-width="1"/>
<circle cx="270.26" cy="391.1" r="2.3" fill="#4589CA" stroke="none" stroke-width="1"/>
<circle cx="320.24" cy="361.5" r="2.3" fill="#4589CA" stroke="none" stroke-width="1"/>
<circle cx="87.0" cy="396.2" r="2.3" fill="#6FCBDC" stroke="none" stroke-width="1"/>
<circle cx="120.32" cy="396.2" r="2.3" fill="#6FCBDC" stroke="none" stroke-width="1"/>
<circle cx="153.64" cy="396.0" r="2.3" fill="#6FCBDC" stroke="none" stroke-width="1"/>
<circle cx="203.62" cy="395.0" r="2.3" fill="#6FCBDC" stroke="none" stroke-width="1"/>
<circle cx="236.94" cy="393.0" r="2.3" fill="#6FCBDC" stroke="none" stroke-width="1"/>
<circle cx="270.26" cy="377.2" r="2.3" fill="#6FCBDC" stroke="none" stroke-width="1"/>
<circle cx="320.24" cy="314.5" r="2.4" fill="#6FCBDC" stroke="none" stroke-width="1"/>
<circle cx="87.0" cy="396.2" r="2.3" fill="#7652A1" stroke="none" stroke-width="1"/>
<circle cx="120.32" cy="396.2" r="2.3" fill="#7652A1" stroke="none" stroke-width="1"/>
<circle cx="153.64" cy="395.8" r="2.3" fill="#7652A1" stroke="none" stroke-width="1"/>
<circle cx="203.62" cy="394.2" r="2.3" fill="#7652A1" stroke="none" stroke-width="1"/>
<circle cx="236.94" cy="391.5" r="2.3" fill="#7652A1" stroke="none" stroke-width="1"/>
<circle cx="270.26" cy="370.7" r="2.3" fill="#7652A1" stroke="none" stroke-width="1"/>
<circle cx="320.24" cy="291.2" r="2.5" fill="#7652A1" stroke="none" stroke-width="1"/>
<circle cx="87.0" cy="396.3" r="2.4" fill="#0a0a0a" stroke="none" stroke-width="1"/>
<circle cx="120.32" cy="396.3" r="2.4" fill="#0a0a0a" stroke="none" stroke-width="1"/>
<circle cx="153.64" cy="396.3" r="2.4" fill="#0a0a0a" stroke="none" stroke-width="1"/>
<circle cx="203.62" cy="396.3" r="2.4" fill="#0a0a0a" stroke="none" stroke-width="1"/>
<circle cx="236.94" cy="396.3" r="2.4" fill="#0a0a0a" stroke="none" stroke-width="1"/>
<circle cx="270.26" cy="396.3" r="2.4" fill="#0a0a0a" stroke="none" stroke-width="1"/>
<circle cx="320.24" cy="396.3" r="2.4" fill="#0a0a0a" stroke="none" stroke-width="1"/>
<text x="346.0" y="138.0" font-size="14" font-weight="bold" fill="#111">c</text>
<text transform="translate(386.50,181.00) rotate(-45) scale(0.92,1)" font-size="9.46" fill="#222">pFTRE</text>
<text transform="translate(404.62,181.00) rotate(-45) scale(0.92,1)" font-size="9.46" fill="#222">NTRK2</text>
<text transform="translate(423.24,181.00) rotate(-45) scale(0.92,1)" font-size="9.46" fill="#222">pFTRE</text>
<text transform="translate(441.86,181.00) rotate(-45) scale(0.92,1)" font-size="9.46" fill="#222">NTRK2</text>
<text transform="translate(460.48,181.00) rotate(-45) scale(0.92,1)" font-size="9.46" fill="#222">SPECC1L::NTRK2</text>
<text transform="translate(478.90,181.00) rotate(-45) scale(0.92,1)" font-size="9.46" fill="#222">NTRK2 ITD</text>
<text transform="translate(496.92,181.00) rotate(-45) scale(0.92,1)" font-size="9.46" fill="#222">NTRK2 ITD <tspan text-decoration="underline">Y516F</tspan></text>
<text transform="translate(514.84,181.00) rotate(-45) scale(0.92,1)" font-size="9.46" fill="#222">NTRK2 ITD <tspan text-decoration="underline">Y534F</tspan></text>
<text transform="translate(532.76,181.00) rotate(-45) scale(0.92,1)" font-size="9.46" fill="#222">NTRK2 ITD <tspan text-decoration="underline">Y658F</tspan></text>
<text transform="translate(550.38,181.00) rotate(-45) scale(0.92,1)" font-size="9.46" fill="#222">NTRK2 ITD <tspan text-decoration="underline">Y516F/</tspan></text>
<text transform="translate(550.40,181.00) rotate(-45) scale(0.92,1)" font-size="9.46" fill="#222"><tspan x="52.83" y="13.2" text-decoration="underline">Y534F/Y658F</tspan></text>
<text transform="translate(384.20,190.90) scale(0.92,1)" font-size="9.24" text-anchor="middle" fill="#222">+</text>
<text transform="translate(384.20,202.60) scale(0.92,1)" font-size="9.24" text-anchor="middle" fill="#222">-</text>
<text transform="translate(402.20,190.90) scale(0.92,1)" font-size="9.24" text-anchor="middle" fill="#222">+</text>
<text transform="translate(402.20,202.60) scale(0.92,1)" font-size="9.24" text-anchor="middle" fill="#222">-</text>
<text transform="translate(420.70,190.90) scale(0.92,1)" font-size="9.24" text-anchor="middle" fill="#222">-</text>
<text transform="translate(420.70,202.60) scale(0.92,1)" font-size="9.24" text-anchor="middle" fill="#222">+</text>
<text transform="translate(439.20,190.90) scale(0.92,1)" font-size="9.24" text-anchor="middle" fill="#222">-</text>
<text transform="translate(439.20,202.60) scale(0.92,1)" font-size="9.24" text-anchor="middle" fill="#222">+</text>
<text transform="translate(457.70,190.90) scale(0.92,1)" font-size="9.24" text-anchor="middle" fill="#222">-</text>
<text transform="translate(457.70,202.60) scale(0.92,1)" font-size="9.24" text-anchor="middle" fill="#222">-</text>
<text transform="translate(476.00,190.90) scale(0.92,1)" font-size="9.24" text-anchor="middle" fill="#222">-</text>
<text transform="translate(476.00,202.60) scale(0.92,1)" font-size="9.24" text-anchor="middle" fill="#222">-</text>
<text transform="translate(493.90,190.90) scale(0.92,1)" font-size="9.24" text-anchor="middle" fill="#222">-</text>
<text transform="translate(493.90,202.60) scale(0.92,1)" font-size="9.24" text-anchor="middle" fill="#222">-</text>
<text transform="translate(511.70,190.90) scale(0.92,1)" font-size="9.24" text-anchor="middle" fill="#222">-</text>
<text transform="translate(511.70,202.60) scale(0.92,1)" font-size="9.24" text-anchor="middle" fill="#222">-</text>
<text transform="translate(529.50,190.90) scale(0.92,1)" font-size="9.24" text-anchor="middle" fill="#222">-</text>
<text transform="translate(529.50,202.60) scale(0.92,1)" font-size="9.24" text-anchor="middle" fill="#222">-</text>
<text transform="translate(547.00,190.90) scale(0.92,1)" font-size="9.24" text-anchor="middle" fill="#222">-</text>
<text transform="translate(547.00,202.60) scale(0.92,1)" font-size="9.24" text-anchor="middle" fill="#222">-</text>
<text transform="translate(564.70,190.20) scale(0.92,1)" font-size="9.24" fill="#222">IL-3 (standard culture condition)</text>
<text transform="translate(564.70,201.90) scale(0.92,1)" font-size="9.24" fill="#222">IL-3 withdrawal (6hrs)</text>
<rect x="376.0" y="207.8" width="182.5" height="22.5" fill="#f2f2f2" stroke="none" stroke-width="1"/>
<g clip-path="url(#cr0)"><g filter="url(#bl1)">
<rect x="379.1" y="208.3" width="14.8" height="21.5" fill="#e6e6e6" stroke="none" stroke-width="1"/>
<rect x="397.1" y="208.3" width="14.8" height="21.5" fill="#dedede" stroke="none" stroke-width="1"/>
<rect x="415.6" y="208.3" width="14.8" height="21.5" fill="#e8e8e8" stroke="none" stroke-width="1"/>
<rect x="434.1" y="208.3" width="14.8" height="21.5" fill="#dedede" stroke="none" stroke-width="1"/>
<rect x="452.6" y="208.3" width="14.8" height="21.5" fill="#d8d8d8" stroke="none" stroke-width="1"/>
<rect x="470.90000000000003" y="208.3" width="14.8" height="21.5" fill="url(#g0_5)" stroke="none" stroke-width="1"/>
<rect x="488.8" y="208.3" width="14.8" height="21.5" fill="url(#g0_6)" stroke="none" stroke-width="1"/>
<rect x="506.6" y="208.3" width="14.8" height="21.5" fill="url(#g0_7)" stroke="none" stroke-width="1"/>
<rect x="524.4" y="208.3" width="14.8" height="21.5" fill="#d6d6d6" stroke="none" stroke-width="1"/>
<rect x="541.9" y="208.3" width="14.8" height="21.5" fill="#dfdfdf" stroke="none" stroke-width="1"/>
</g><g filter="url(#bl2)">
<rect x="397.1" y="218.4" width="14.8" height="4.9" rx="2.5" fill="#5c5c5c"/>
<rect x="434.1" y="217.0" width="14.8" height="4.3" rx="2.1" fill="#888888"/>
<rect x="452.6" y="214.1" width="14.8" height="2.6" rx="1.3" fill="#787878"/>
<rect x="452.6" y="218.3" width="14.8" height="2.6" rx="1.3" fill="#7c7c7c"/>
<rect x="470.9" y="212.9" width="14.8" height="3.9" rx="1.9" fill="#b0b0b0"/>
<rect x="488.8" y="212.9" width="14.8" height="3.9" rx="1.9" fill="#ababab"/>
<rect x="506.6" y="212.9" width="14.8" height="3.9" rx="1.9" fill="#a7a7a7"/>
</g></g>
<rect x="376.0" y="207.8" width="182.5" height="22.5" fill="none" stroke="#3a3a3a" stroke-width="1.3"/>
<line x1="366.8" y1="218.1" x2="376.0" y2="218.1" stroke="#333" stroke-width="1.2"/>
<text transform="translate(365.40,218.70) scale(0.92,1)" font-size="9.02" text-anchor="end" fill="#333">150</text>
<text transform="translate(565.00,221.00) scale(0.92,1)" font-size="9.24" fill="#222">anti-P-TRKB (Y706)</text>
<rect x="376.0" y="234.4" width="182.5" height="20.0" fill="#eeeeee" stroke="none" stroke-width="1"/>
<g clip-path="url(#cr1)"><g filter="url(#bl1)">
<rect x="379.1" y="234.9" width="14.8" height="19.0" fill="#d2d2d2" stroke="none" stroke-width="1"/>
<rect x="397.1" y="234.9" width="14.8" height="19.0" fill="url(#g1_1)" stroke="none" stroke-width="1"/>
<rect x="415.6" y="234.9" width="14.8" height="19.0" fill="#e2e2e2" stroke="none" stroke-width="1"/>
<rect x="434.1" y="234.9" width="14.8" height="19.0" fill="#cbcbcb" stroke="none" stroke-width="1"/>
<rect x="452.6" y="234.9" width="14.8" height="19.0" fill="#c2c2c2" stroke="none" stroke-width="1"/>
<rect x="470.90000000000003" y="234.9" width="14.8" height="19.0" fill="url(#g1_5)" stroke="none" stroke-width="1"/>
<rect x="488.8" y="234.9" width="14.8" height="19.0" fill="url(#g1_6)" stroke="none" stroke-width="1"/>
<rect x="506.6" y="234.9" width="14.8" height="19.0" fill="url(#g1_7)" stroke="none" stroke-width="1"/>
<rect x="524.4" y="234.9" width="14.8" height="19.0" fill="#b2b2b2" stroke="none" stroke-width="1"/>
<rect x="541.9" y="234.9" width="14.8" height="19.0" fill="#d4d4d4" stroke="none" stroke-width="1"/>
</g><g filter="url(#bl2)">
<rect x="379.6" y="241.6" width="13.8" height="3.9" rx="1.9" fill="#ababab"/>
<rect x="397.1" y="243.5" width="14.8" height="5.9" rx="3.0" fill="#080808"/>
<rect x="434.1" y="243.1" width="14.8" height="4.7" rx="2.4" fill="#606060"/>
<rect x="452.6" y="240.2" width="14.8" height="2.6" rx="1.3" fill="#5e5e5e"/>
<rect x="452.6" y="244.4" width="14.8" height="2.6" rx="1.3" fill="#686868"/>
<rect x="470.9" y="238.6" width="14.8" height="4.4" rx="2.2" fill="#454545"/>
<rect x="488.8" y="238.6" width="14.8" height="4.4" rx="2.2" fill="#3b3b3b"/>
<rect x="506.6" y="238.6" width="14.8" height="4.4" rx="2.2" fill="#1c1c1c"/>
<rect x="524.9" y="239.6" width="13.8" height="3.9" rx="1.9" fill="#7d7d7d"/>
</g></g>
<rect x="376.0" y="234.4" width="182.5" height="20.0" fill="none" stroke="#3a3a3a" stroke-width="1.3"/>
<line x1="366.8" y1="243.6" x2="376.0" y2="243.6" stroke="#333" stroke-width="1.2"/>
<text transform="translate(365.40,244.20) scale(0.92,1)" font-size="9.02" text-anchor="end" fill="#333">150</text>
<text transform="translate(565.00,246.40) scale(0.92,1)" font-size="9.24" fill="#222">anti-P-TRKB (Y516)</text>
<rect x="376.0" y="259.5" width="182.5" height="23.600000000000023" fill="#f4f4f4" stroke="none" stroke-width="1"/>
<g clip-path="url(#cr2)"><g filter="url(#bl1)">
<rect x="379.1" y="260.0" width="14.8" height="22.600000000000023" fill="#efefef" stroke="none" stroke-width="1"/>
<rect x="397.1" y="260.0" width="14.8" height="22.600000000000023" fill="url(#g2_1)" stroke="none" stroke-width="1"/>
<rect x="415.6" y="260.0" width="14.8" height="22.600000000000023" fill="#efefef" stroke="none" stroke-width="1"/>
<rect x="434.1" y="260.0" width="14.8" height="22.600000000000023" fill="url(#g2_3)" stroke="none" stroke-width="1"/>
<rect x="452.6" y="260.0" width="14.8" height="22.600000000000023" fill="url(#g2_4)" stroke="none" stroke-width="1"/>
<rect x="470.90000000000003" y="260.0" width="14.8" height="22.600000000000023" fill="url(#g2_5)" stroke="none" stroke-width="1"/>
<rect x="488.8" y="260.0" width="14.8" height="22.600000000000023" fill="url(#g2_6)" stroke="none" stroke-width="1"/>
<rect x="506.6" y="260.0" width="14.8" height="22.600000000000023" fill="url(#g2_7)" stroke="none" stroke-width="1"/>
<rect x="524.4" y="260.0" width="14.8" height="22.600000000000023" fill="url(#g2_8)" stroke="none" stroke-width="1"/>
<rect x="541.9" y="260.0" width="14.8" height="22.600000000000023" fill="url(#g2_9)" stroke="none" stroke-width="1"/>
</g><g filter="url(#bl2)">
<rect x="396.9" y="268.9" width="15.3" height="5.9" rx="3.0" fill="#030303"/>
<rect x="397.1" y="274.8" width="14.8" height="3.9" rx="1.9" fill="#686868"/>
<rect x="433.9" y="267.7" width="15.3" height="4.9" rx="2.5" fill="#131313"/>
<rect x="434.1" y="273.8" width="14.8" height="3.9" rx="1.9" fill="#888888"/>
<rect x="452.6" y="265.4" width="14.8" height="2.6" rx="1.3" fill="#404040"/>
<rect x="452.6" y="269.9" width="14.8" height="2.6" rx="1.3" fill="#494949"/>
<rect x="470.7" y="269.1" width="15.3" height="4.5" rx="2.2" fill="#000000"/>
<rect x="488.6" y="269.1" width="15.3" height="4.5" rx="2.2" fill="#000000"/>
<rect x="506.4" y="269.2" width="15.3" height="4.9" rx="2.5" fill="#000000"/>
<rect x="524.1" y="269.1" width="15.3" height="4.5" rx="2.2" fill="#000000"/>
<rect x="542.1" y="269.2" width="14.3" height="4.3" rx="2.1" fill="#070707"/>
</g></g>
<rect x="376.0" y="259.5" width="182.5" height="23.600000000000023" fill="none" stroke="#3a3a3a" stroke-width="1.3"/>
<line x1="366.8" y1="269.0" x2="376.0" y2="269.0" stroke="#333" stroke-width="1.2"/>
<text transform="translate(365.40,269.60) scale(0.92,1)" font-size="9.02" text-anchor="end" fill="#333">150</text>
<text transform="translate(565.00,272.40) scale(0.92,1)" font-size="9.24" fill="#222">anti-TRK</text>
<rect x="376.0" y="288.8" width="182.5" height="10.699999999999989" fill="#f2f2f2" stroke="none" stroke-width="1"/>
<g clip-path="url(#cr3)"><g filter="url(#bl1)">
<rect x="379.1" y="289.3" width="14.8" height="9.699999999999989" fill="#e4e4e4" stroke="none" stroke-width="1"/>
<rect x="397.1" y="289.3" width="14.8" height="9.699999999999989" fill="#e8e8e8" stroke="none" stroke-width="1"/>
<rect x="415.6" y="289.3" width="14.8" height="9.699999999999989" fill="#ececec" stroke="none" stroke-width="1"/>
<rect x="434.1" y="289.3" width="14.8" height="9.699999999999989" fill="#ececec" stroke="none" stroke-width="1"/>
<rect x="452.6" y="289.3" width="14.8" height="9.699999999999989" fill="#ececec" stroke="none" stroke-width="1"/>
<rect x="470.90000000000003" y="289.3" width="14.8" height="9.699999999999989" fill="#ececec" stroke="none" stroke-width="1"/>
<rect x="488.8" y="289.3" width="14.8" height="9.699999999999989" fill="#ececec" stroke="none" stroke-width="1"/>
<rect x="506.6" y="289.3" width="14.8" height="9.699999999999989" fill="#ececec" stroke="none" stroke-width="1"/>
<rect x="524.4" y="289.3" width="14.8" height="9.699999999999989" fill="#ececec" stroke="none" stroke-width="1"/>
<rect x="541.9" y="289.3" width="14.8" height="9.699999999999989" fill="#ececec" stroke="none" stroke-width="1"/>
</g><g filter="url(#bl2)">
<rect x="378.4" y="292.9" width="16.3" height="4.5" rx="2.2" fill="#0f0f0f"/>
<rect x="397.1" y="293.4" width="14.8" height="3.9" rx="1.9" fill="#979797"/>
</g></g>
<rect x="376.0" y="288.8" width="182.5" height="10.699999999999989" fill="none" stroke="#3a3a3a" stroke-width="1.3"/>
<line x1="366.8" y1="297.0" x2="376.0" y2="297.0" stroke="#333" stroke-width="1.2"/>
<text transform="translate(365.40,297.60) scale(0.92,1)" font-size="9.02" text-anchor="end" fill="#333">75</text>
<text transform="translate(565.00,296.60) scale(0.92,1)" font-size="9.24" fill="#222">anti-P-STAT5 (Y694)</text>
<rect x="376.0" y="305.3" width="182.5" height="10.800000000000011" fill="#f2f2f2" stroke="none" stroke-width="1"/>
<g clip-path="url(#cr4)"><g filter="url(#bl1)">
<rect x="379.1" y="305.8" width="14.8" height="9.800000000000011" fill="#e6e6e6" stroke="none" stroke-width="1"/>
<rect x="397.1" y="305.8" width="14.8" height="9.800000000000011" fill="#e6e6e6" stroke="none" stroke-width="1"/>
<rect x="415.6" y="305.8" width="14.8" height="9.800000000000011" fill="#e6e6e6" stroke="none" stroke-width="1"/>
<rect x="434.1" y="305.8" width="14.8" height="9.800000000000011" fill="#e6e6e6" stroke="none" stroke-width="1"/>
<rect x="452.6" y="305.8" width="14.8" height="9.800000000000011" fill="#e6e6e6" stroke="none" stroke-width="1"/>
<rect x="470.90000000000003" y="305.8" width="14.8" height="9.800000000000011" fill="#e6e6e6" stroke="none" stroke-width="1"/>
<rect x="488.8" y="305.8" width="14.8" height="9.800000000000011" fill="#e6e6e6" stroke="none" stroke-width="1"/>
<rect x="506.6" y="305.8" width="14.8" height="9.800000000000011" fill="#e6e6e6" stroke="none" stroke-width="1"/>
<rect x="524.4" y="305.8" width="14.8" height="9.800000000000011" fill="#e6e6e6" stroke="none" stroke-width="1"/>
<rect x="541.9" y="305.8" width="14.8" height="9.800000000000011" fill="#e6e6e6" stroke="none" stroke-width="1"/>
</g><g filter="url(#bl2)">
<rect x="378.4" y="308.2" width="16.3" height="4.5" rx="2.2" fill="#000000"/>
<rect x="396.9" y="308.5" width="15.3" height="4.3" rx="2.1" fill="#0c0c0c"/>
<rect x="415.6" y="308.7" width="14.8" height="3.9" rx="1.9" fill="#202020"/>
<rect x="433.9" y="308.4" width="15.3" height="4.1" rx="2.1" fill="#0f0f0f"/>
<rect x="452.4" y="308.2" width="15.3" height="4.3" rx="2.1" fill="#090909"/>
<rect x="470.9" y="308.8" width="14.8" height="3.9" rx="1.9" fill="#1c1c1c"/>
<rect x="488.8" y="308.8" width="14.8" height="3.9" rx="1.9" fill="#1c1c1c"/>
<rect x="506.6" y="308.8" width="14.8" height="3.9" rx="1.9" fill="#1c1c1c"/>
<rect x="524.1" y="308.8" width="15.3" height="4.1" rx="2.1" fill="#111111"/>
<rect x="541.4" y="308.8" width="15.8" height="4.5" rx="2.2" fill="#000000"/>
</g></g>
<rect x="376.0" y="305.3" width="182.5" height="10.800000000000011" fill="none" stroke="#3a3a3a" stroke-width="1.3"/>
<line x1="366.8" y1="313.2" x2="376.0" y2="313.2" stroke="#333" stroke-width="1.2"/>
<text transform="translate(365.40,313.80) scale(0.92,1)" font-size="9.02" text-anchor="end" fill="#333">75</text>
<text transform="translate(565.00,313.10) scale(0.92,1)" font-size="9.24" fill="#222">anti-STAT5</text>
<rect x="376.0" y="322.7" width="182.5" height="15.699999999999989" fill="#e8e8e8" stroke="none" stroke-width="1"/>
<g clip-path="url(#cr5)"><g filter="url(#bl1)">
<rect x="379.1" y="323.2" width="14.8" height="14.699999999999989" fill="#cbcbcb" stroke="none" stroke-width="1"/>
<rect x="397.1" y="323.2" width="14.8" height="14.699999999999989" fill="#cbcbcb" stroke="none" stroke-width="1"/>
<rect x="415.6" y="323.2" width="14.8" height="14.699999999999989" fill="#d0d0d0" stroke="none" stroke-width="1"/>
<rect x="434.1" y="323.2" width="14.8" height="14.699999999999989" fill="#cecece" stroke="none" stroke-width="1"/>
<rect x="452.6" y="323.2" width="14.8" height="14.699999999999989" fill="#cbcbcb" stroke="none" stroke-width="1"/>
<rect x="470.90000000000003" y="323.2" width="14.8" height="14.699999999999989" fill="#cbcbcb" stroke="none" stroke-width="1"/>
<rect x="488.8" y="323.2" width="14.8" height="14.699999999999989" fill="#cbcbcb" stroke="none" stroke-width="1"/>
<rect x="506.6" y="323.2" width="14.8" height="14.699999999999989" fill="#c8c8c8" stroke="none" stroke-width="1"/>
<rect x="524.4" y="323.2" width="14.8" height="14.699999999999989" fill="#cccccc" stroke="none" stroke-width="1"/>
<rect x="541.9" y="323.2" width="14.8" height="14.699999999999989" fill="#cccccc" stroke="none" stroke-width="1"/>
</g><g filter="url(#bl2)">
<rect x="378.9" y="329.4" width="15.3" height="3.2" rx="1.6" fill="#4d4d4d"/>
<rect x="397.1" y="329.4" width="14.8" height="3.2" rx="1.6" fill="#5e5e5e"/>
<rect x="415.6" y="329.9" width="14.8" height="3.2" rx="1.6" fill="#aeaeae"/>
<rect x="434.1" y="329.4" width="14.8" height="3.2" rx="1.6" fill="#a0a0a0"/>
<rect x="452.4" y="326.6" width="15.3" height="4.1" rx="2.1" fill="#0c0c0c"/>
<rect x="470.9" y="327.7" width="14.8" height="3.2" rx="1.6" fill="#787878"/>
<rect x="488.8" y="328.0" width="14.8" height="3.2" rx="1.6" fill="#686868"/>
<rect x="506.6" y="328.9" width="14.8" height="3.2" rx="1.6" fill="#656565"/>
<rect x="524.4" y="330.4" width="14.8" height="3.2" rx="1.6" fill="#878787"/>
<rect x="541.9" y="330.4" width="14.8" height="3.2" rx="1.6" fill="#949494"/>
</g></g>
<rect x="376.0" y="322.7" width="182.5" height="15.699999999999989" fill="none" stroke="#3a3a3a" stroke-width="1.3"/>
<line x1="366.8" y1="335.4" x2="376.0" y2="335.4" stroke="#333" stroke-width="1.2"/>
<text transform="translate(365.40,336.00) scale(0.92,1)" font-size="9.02" text-anchor="end" fill="#333">50</text>
<text transform="translate(565.00,332.50) scale(0.92,1)" font-size="9.24" fill="#222">anti-P-AKT (S473)</text>
<rect x="376.0" y="344.4" width="182.5" height="17.200000000000045" fill="#f2f2f2" stroke="none" stroke-width="1"/>
<g clip-path="url(#cr6)"><g filter="url(#bl1)">
<rect x="379.1" y="344.9" width="14.8" height="16.200000000000045" fill="#e4e4e4" stroke="none" stroke-width="1"/>
<rect x="397.1" y="344.9" width="14.8" height="16.200000000000045" fill="#e4e4e4" stroke="none" stroke-width="1"/>
<rect x="415.6" y="344.9" width="14.8" height="16.200000000000045" fill="#e4e4e4" stroke="none" stroke-width="1"/>
<rect x="434.1" y="344.9" width="14.8" height="16.200000000000045" fill="#e4e4e4" stroke="none" stroke-width="1"/>
<rect x="452.6" y="344.9" width="14.8" height="16.200000000000045" fill="#e4e4e4" stroke="none" stroke-width="1"/>
<rect x="470.90000000000003" y="344.9" width="14.8" height="16.200000000000045" fill="#e4e4e4" stroke="none" stroke-width="1"/>
<rect x="488.8" y="344.9" width="14.8" height="16.200000000000045" fill="#e4e4e4" stroke="none" stroke-width="1"/>
<rect x="506.6" y="344.9" width="14.8" height="16.200000000000045" fill="#e4e4e4" stroke="none" stroke-width="1"/>
<rect x="524.4" y="344.9" width="14.8" height="16.200000000000045" fill="#e4e4e4" stroke="none" stroke-width="1"/>
<rect x="541.9" y="344.9" width="14.8" height="16.200000000000045" fill="#e4e4e4" stroke="none" stroke-width="1"/>
</g><g filter="url(#bl2)">
<rect x="378.4" y="352.7" width="16.3" height="4.9" rx="2.5" fill="#000000"/>
<rect x="396.4" y="352.4" width="16.3" height="5.1" rx="2.6" fill="#000000"/>
<rect x="415.1" y="352.4" width="15.8" height="4.5" rx="2.2" fill="#191919"/>
<rect x="433.4" y="351.2" width="16.3" height="4.9" rx="2.5" fill="#030303"/>
<rect x="451.9" y="350.8" width="16.3" height="5.1" rx="2.6" fill="#000000"/>
<rect x="470.2" y="351.6" width="16.3" height="4.9" rx="2.5" fill="#000000"/>
<rect x="488.1" y="351.9" width="16.3" height="4.9" rx="2.5" fill="#000000"/>
<rect x="505.9" y="352.6" width="16.3" height="4.9" rx="2.5" fill="#000000"/>
<rect x="523.6" y="353.4" width="16.3" height="4.9" rx="2.5" fill="#000000"/>
<rect x="541.1" y="353.2" width="16.3" height="5.1" rx="2.6" fill="#000000"/>
</g></g>
<rect x="376.0" y="344.4" width="182.5" height="17.200000000000045" fill="none" stroke="#3a3a3a" stroke-width="1.3"/>
<line x1="366.8" y1="359.1" x2="376.0" y2="359.1" stroke="#333" stroke-width="1.2"/>
<text transform="translate(365.40,359.70) scale(0.92,1)" font-size="9.02" text-anchor="end" fill="#333">50</text>
<text transform="translate(565.00,356.00) scale(0.92,1)" font-size="9.24" fill="#222">anti-AKT</text>
<rect x="376.0" y="367.3" width="182.5" height="18.30000000000001" fill="#ececec" stroke="none" stroke-width="1"/>
<g clip-path="url(#cr7)"><g filter="url(#bl1)">
<rect x="379.1" y="367.8" width="14.8" height="17.30000000000001" fill="#d8d8d8" stroke="none" stroke-width="1"/>
<rect x="397.1" y="367.8" width="14.8" height="17.30000000000001" fill="#dadada" stroke="none" stroke-width="1"/>
<rect x="415.6" y="367.8" width="14.8" height="17.30000000000001" fill="#dadada" stroke="none" stroke-width="1"/>
<rect x="434.1" y="367.8" width="14.8" height="17.30000000000001" fill="#dadada" stroke="none" stroke-width="1"/>
<rect x="452.6" y="367.8" width="14.8" height="17.30000000000001" fill="#d8d8d8" stroke="none" stroke-width="1"/>
<rect x="470.90000000000003" y="367.8" width="14.8" height="17.30000000000001" fill="#d8d8d8" stroke="none" stroke-width="1"/>
<rect x="488.8" y="367.8" width="14.8" height="17.30000000000001" fill="#d8d8d8" stroke="none" stroke-width="1"/>
<rect x="506.6" y="367.8" width="14.8" height="17.30000000000001" fill="#d6d6d6" stroke="none" stroke-width="1"/>
<rect x="524.4" y="367.8" width="14.8" height="17.30000000000001" fill="#d6d6d6" stroke="none" stroke-width="1"/>
<rect x="541.9" y="367.8" width="14.8" height="17.30000000000001" fill="#d8d8d8" stroke="none" stroke-width="1"/>
</g><g filter="url(#bl2)">
<rect x="378.4" y="372.4" width="16.3" height="4.9" rx="2.5" fill="#000000"/>
<rect x="396.9" y="372.9" width="15.3" height="4.1" rx="2.1" fill="#454545"/>
<rect x="415.4" y="372.7" width="15.3" height="3.9" rx="1.9" fill="#656565"/>
<rect x="433.9" y="372.2" width="15.3" height="3.9" rx="1.9" fill="#656565"/>
<rect x="451.9" y="370.4" width="16.3" height="4.5" rx="2.2" fill="#000000"/>
<rect x="470.7" y="370.8" width="15.3" height="4.1" rx="2.1" fill="#2d2d2d"/>
<rect x="488.1" y="370.8" width="16.3" height="4.7" rx="2.4" fill="#070707"/>
<rect x="505.9" y="371.1" width="16.3" height="5.1" rx="2.6" fill="#000000"/>
<rect x="523.6" y="371.4" width="16.3" height="5.1" rx="2.6" fill="#000000"/>
<rect x="541.4" y="372.4" width="15.8" height="4.5" rx="2.2" fill="#0c0c0c"/>
<rect x="379.1" y="380.8" width="14.8" height="2.4" rx="1.2" fill="#cccccc"/>
<rect x="397.1" y="380.8" width="14.8" height="2.4" rx="1.2" fill="#cccccc"/>
<rect x="415.6" y="380.8" width="14.8" height="2.4" rx="1.2" fill="#cccccc"/>
<rect x="434.1" y="380.8" width="14.8" height="2.4" rx="1.2" fill="#cccccc"/>
<rect x="470.9" y="380.6" width="14.8" height="2.4" rx="1.2" fill="#c7c7c7"/>
<rect x="488.8" y="380.6" width="14.8" height="2.4" rx="1.2" fill="#c7c7c7"/>
<rect x="506.6" y="380.6" width="14.8" height="2.4" rx="1.2" fill="#c7c7c7"/>
<rect x="524.4" y="380.6" width="14.8" height="2.4" rx="1.2" fill="#c7c7c7"/>
</g></g>
<rect x="376.0" y="367.3" width="182.5" height="18.30000000000001" fill="none" stroke="#3a3a3a" stroke-width="1.3"/>
<line x1="366.8" y1="379.2" x2="376.0" y2="379.2" stroke="#333" stroke-width="1.2"/>
<text transform="translate(365.40,379.80) scale(0.92,1)" font-size="9.02" text-anchor="end" fill="#333">37</text>
<text transform="translate(565.00,381.20) scale(0.92,1)" font-size="9.24" fill="#222">anti-P-MEK1/2 (S217/S221)</text>
<rect x="376.0" y="391.1" width="182.5" height="19.69999999999999" fill="#f2f2f2" stroke="none" stroke-width="1"/>
<g clip-path="url(#cr8)"><g filter="url(#bl1)">
<rect x="379.1" y="391.6" width="14.8" height="18.69999999999999" fill="#e4e4e4" stroke="none" stroke-width="1"/>
<rect x="397.1" y="391.6" width="14.8" height="18.69999999999999" fill="#e4e4e4" stroke="none" stroke-width="1"/>
<rect x="415.6" y="391.6" width="14.8" height="18.69999999999999" fill="#e4e4e4" stroke="none" stroke-width="1"/>
<rect x="434.1" y="391.6" width="14.8" height="18.69999999999999" fill="#e4e4e4" stroke="none" stroke-width="1"/>
<rect x="452.6" y="391.6" width="14.8" height="18.69999999999999" fill="#e4e4e4" stroke="none" stroke-width="1"/>
<rect x="470.90000000000003" y="391.6" width="14.8" height="18.69999999999999" fill="#e4e4e4" stroke="none" stroke-width="1"/>
<rect x="488.8" y="391.6" width="14.8" height="18.69999999999999" fill="#e4e4e4" stroke="none" stroke-width="1"/>
<rect x="506.6" y="391.6" width="14.8" height="18.69999999999999" fill="#e4e4e4" stroke="none" stroke-width="1"/>
<rect x="524.4" y="391.6" width="14.8" height="18.69999999999999" fill="#e4e4e4" stroke="none" stroke-width="1"/>
<rect x="541.9" y="391.6" width="14.8" height="18.69999999999999" fill="#e4e4e4" stroke="none" stroke-width="1"/>
</g><g filter="url(#bl2)">
<rect x="378.4" y="395.3" width="16.3" height="5.1" rx="2.6" fill="#000000"/>
<rect x="396.4" y="395.2" width="16.3" height="5.5" rx="2.8" fill="#000000"/>
<rect x="415.1" y="395.3" width="15.8" height="4.1" rx="2.1" fill="#131313"/>
<rect x="433.6" y="394.9" width="15.8" height="4.3" rx="2.1" fill="#0c0c0c"/>
<rect x="451.9" y="394.8" width="16.3" height="5.1" rx="2.6" fill="#000000"/>
<rect x="470.4" y="395.4" width="15.8" height="4.5" rx="2.2" fill="#0c0c0c"/>
<rect x="488.1" y="395.6" width="16.3" height="4.9" rx="2.5" fill="#000000"/>
<rect x="505.9" y="395.8" width="16.3" height="5.1" rx="2.6" fill="#000000"/>
<rect x="523.6" y="396.1" width="16.3" height="5.1" rx="2.6" fill="#000000"/>
<rect x="541.1" y="396.1" width="16.3" height="5.1" rx="2.6" fill="#000000"/>
</g></g>
<rect x="376.0" y="391.1" width="182.5" height="19.69999999999999" fill="none" stroke="#3a3a3a" stroke-width="1.3"/>
<line x1="366.8" y1="404.3" x2="376.0" y2="404.3" stroke="#333" stroke-width="1.2"/>
<text transform="translate(365.40,404.90) scale(0.92,1)" font-size="9.02" text-anchor="end" fill="#333">37</text>
<text transform="translate(565.00,404.40) scale(0.92,1)" font-size="9.24" fill="#222">anti-MEK1/2</text>
<rect x="376.0" y="416.2" width="182.5" height="18.0" fill="#f2f2f2" stroke="none" stroke-width="1"/>
<g clip-path="url(#cr9)"><g filter="url(#bl1)">
<rect x="379.1" y="416.7" width="14.8" height="17.0" fill="#e4e4e4" stroke="none" stroke-width="1"/>
<rect x="397.1" y="416.7" width="14.8" height="17.0" fill="#e4e4e4" stroke="none" stroke-width="1"/>
<rect x="415.6" y="416.7" width="14.8" height="17.0" fill="#e4e4e4" stroke="none" stroke-width="1"/>
<rect x="434.1" y="416.7" width="14.8" height="17.0" fill="#e4e4e4" stroke="none" stroke-width="1"/>
<rect x="452.6" y="416.7" width="14.8" height="17.0" fill="#e4e4e4" stroke="none" stroke-width="1"/>
<rect x="470.90000000000003" y="416.7" width="14.8" height="17.0" fill="#e4e4e4" stroke="none" stroke-width="1"/>
<rect x="488.8" y="416.7" width="14.8" height="17.0" fill="#e4e4e4" stroke="none" stroke-width="1"/>
<rect x="506.6" y="416.7" width="14.8" height="17.0" fill="#e4e4e4" stroke="none" stroke-width="1"/>
<rect x="524.4" y="416.7" width="14.8" height="17.0" fill="#e4e4e4" stroke="none" stroke-width="1"/>
<rect x="541.9" y="416.7" width="14.8" height="17.0" fill="#e4e4e4" stroke="none" stroke-width="1"/>
</g><g filter="url(#bl2)">
<rect x="378.4" y="420.1" width="16.3" height="4.9" rx="2.5" fill="#000000"/>
<rect x="396.4" y="420.2" width="16.3" height="4.7" rx="2.4" fill="#000000"/>
<rect x="414.9" y="419.8" width="16.3" height="4.7" rx="2.4" fill="#000000"/>
<rect x="433.4" y="419.6" width="16.3" height="4.5" rx="2.2" fill="#030303"/>
<rect x="451.9" y="419.6" width="16.3" height="4.5" rx="2.2" fill="#030303"/>
<rect x="470.2" y="419.8" width="16.3" height="4.7" rx="2.4" fill="#000000"/>
<rect x="488.1" y="420.2" width="16.3" height="4.9" rx="2.5" fill="#000000"/>
<rect x="505.9" y="421.2" width="16.3" height="4.9" rx="2.5" fill="#000000"/>
<rect x="523.6" y="421.9" width="16.3" height="4.9" rx="2.5" fill="#000000"/>
<rect x="541.1" y="422.6" width="16.3" height="4.7" rx="2.4" fill="#000000"/>
</g></g>
<rect x="376.0" y="416.2" width="182.5" height="18.0" fill="none" stroke="#3a3a3a" stroke-width="1.3"/>
<line x1="366.8" y1="426.9" x2="376.0" y2="426.9" stroke="#333" stroke-width="1.2"/>
<text transform="translate(365.40,427.50) scale(0.92,1)" font-size="9.02" text-anchor="end" fill="#333">37</text>
<text transform="translate(565.00,427.30) scale(0.92,1)" font-size="9.24" fill="#222">anti-&#946;-actin</text>
<text x="67.6" y="473.8" font-size="14" font-weight="bold" fill="#111">d</text>
<text transform="translate(126.50,473.60) scale(0.92,1)" font-size="15.00" font-weight="bold" fill="#111">NTRK2 (TRKB)</text>
<text transform="translate(368.00,473.40) scale(0.92,1)" font-size="15.00" font-weight="bold" fill="#111">NTRK2 ITD</text>
<rect x="133.0" y="601.6" width="400.4" height="12.6" fill="url(#memb)"/>
<line x1="166.0" y1="586" x2="166.0" y2="702.7" stroke="#C24E1C" stroke-width="3.8"/>
<line x1="185.9" y1="586" x2="185.9" y2="702.7" stroke="#C24E1C" stroke-width="3.8"/>
<line x1="166.0" y1="497.3" x2="166.0" y2="529.3" stroke="#C24E1C" stroke-width="3.6"/>
<rect x="163.4" y="496.3" width="5.2" height="4.5" fill="#EE7B40" stroke="#C24E1C" stroke-width="0.7" rx="0.7"/>
<circle cx="166.0" cy="505.40000000000003" r="2.55" fill="#EE7B40" stroke="#C24E1C" stroke-width="0.7"/>
<circle cx="166.0" cy="511.0" r="2.55" fill="#EE7B40" stroke="#C24E1C" stroke-width="0.7"/>
<circle cx="166.0" cy="516.7" r="2.55" fill="#EE7B40" stroke="#C24E1C" stroke-width="0.7"/>
<rect x="163.4" y="521.0" width="5.2" height="4.6" fill="#EE7B40" stroke="#C24E1C" stroke-width="0.7" rx="0.7"/>
<line x1="166.0" y1="552" x2="166.0" y2="565" stroke="#C24E1C" stroke-width="1.8"/>
<path d="M164.50 534.67 A10.8 10.8 0 1 0 164.50 551.93" fill="none" stroke="#C4521F" stroke-width="7.3" stroke-linecap="round"/>
<circle cx="165.2217802778246" cy="533.7163738794325" r="4.75" fill="#C4521F" stroke="none" stroke-width="1"/>
<circle cx="165.2217802778246" cy="552.8836261205674" r="4.75" fill="#C4521F" stroke="none" stroke-width="1"/>
<path d="M164.50 534.67 A10.8 10.8 0 1 0 164.50 551.93" fill="none" stroke="#EE7B40" stroke-width="5.5" stroke-linecap="round"/>
<circle cx="165.2217802778246" cy="533.7163738794325" r="3.9" fill="#EE7B40" stroke="none" stroke-width="1"/>
<circle cx="165.2217802778246" cy="552.8836261205674" r="3.9" fill="#EE7B40" stroke="none" stroke-width="1"/>
<path d="M164.50 567.87 A10.8 10.8 0 1 0 164.50 585.13" fill="none" stroke="#C4521F" stroke-width="7.3" stroke-linecap="round"/>
<circle cx="165.2217802778246" cy="566.9163738794325" r="4.75" fill="#C4521F" stroke="none" stroke-width="1"/>
<circle cx="165.2217802778246" cy="586.0836261205675" r="4.75" fill="#C4521F" stroke="none" stroke-width="1"/>
<path d="M164.50 567.87 A10.8 10.8 0 1 0 164.50 585.13" fill="none" stroke="#EE7B40" stroke-width="5.5" stroke-linecap="round"/>
<circle cx="165.2217802778246" cy="566.9163738794325" r="3.9" fill="#EE7B40" stroke="none" stroke-width="1"/>
<circle cx="165.2217802778246" cy="586.0836261205675" r="3.9" fill="#EE7B40" stroke="none" stroke-width="1"/>
<line x1="185.9" y1="497.3" x2="185.9" y2="529.3" stroke="#C24E1C" stroke-width="3.6"/>
<rect x="183.3" y="496.3" width="5.2" height="4.5" fill="#EE7B40" stroke="#C24E1C" stroke-width="0.7" rx="0.7"/>
<circle cx="185.9" cy="505.40000000000003" r="2.55" fill="#EE7B40" stroke="#C24E1C" stroke-width="0.7"/>
<circle cx="185.9" cy="511.0" r="2.55" fill="#EE7B40" stroke="#C24E1C" stroke-width="0.7"/>
<circle cx="185.9" cy="516.7" r="2.55" fill="#EE7B40" stroke="#C24E1C" stroke-width="0.7"/>
<rect x="183.3" y="521.0" width="5.2" height="4.6" fill="#EE7B40" stroke="#C24E1C" stroke-width="0.7" rx="0.7"/>
<line x1="185.9" y1="552" x2="185.9" y2="565" stroke="#C24E1C" stroke-width="1.8"/>
<path d="M187.40 534.67 A10.8 10.8 0 1 1 187.40 551.93" fill="none" stroke="#C4521F" stroke-width="7.3" stroke-linecap="round"/>
<circle cx="186.6782197221754" cy="533.7163738794325" r="4.75" fill="#C4521F" stroke="none" stroke-width="1"/>
<circle cx="186.6782197221754" cy="552.8836261205674" r="4.75" fill="#C4521F" stroke="none" stroke-width="1"/>
<path d="M187.40 534.67 A10.8 10.8 0 1 1 187.40 551.93" fill="none" stroke="#EE7B40" stroke-width="5.5" stroke-linecap="round"/>
<circle cx="186.6782197221754" cy="533.7163738794325" r="3.9" fill="#EE7B40" stroke="none" stroke-width="1"/>
<circle cx="186.6782197221754" cy="552.8836261205674" r="3.9" fill="#EE7B40" stroke="none" stroke-width="1"/>
<path d="M187.40 567.87 A10.8 10.8 0 1 1 187.40 585.13" fill="none" stroke="#C4521F" stroke-width="7.3" stroke-linecap="round"/>
<circle cx="186.6782197221754" cy="566.9163738794325" r="4.75" fill="#C4521F" stroke="none" stroke-width="1"/>
<circle cx="186.6782197221754" cy="586.0836261205675" r="4.75" fill="#C4521F" stroke="none" stroke-width="1"/>
<path d="M187.40 567.87 A10.8 10.8 0 1 1 187.40 585.13" fill="none" stroke="#EE7B40" stroke-width="5.5" stroke-linecap="round"/>
<circle cx="186.6782197221754" cy="566.9163738794325" r="3.9" fill="#EE7B40" stroke="none" stroke-width="1"/>
<circle cx="186.6782197221754" cy="586.0836261205675" r="3.9" fill="#EE7B40" stroke="none" stroke-width="1"/>
<circle cx="171.7" cy="558.7" r="4.4" fill="#5A5BA8" stroke="#fff" stroke-width="0.9"/>
<circle cx="180.9" cy="558.7" r="4.4" fill="#5A5BA8" stroke="#fff" stroke-width="0.9"/>
<rect x="161.4" y="626.8" width="8.2" height="38.8" fill="#EE7B40" stroke="#C4521F" stroke-width="0.6" rx="4"/>
<rect x="181.8" y="626.8" width="8.2" height="38.8" fill="#EE7B40" stroke="#C4521F" stroke-width="0.6" rx="4"/>
<circle cx="161.3" cy="620.4" r="5.8" fill="#F6CF12" stroke="#7E5E10" stroke-width="1.0"/>
<text transform="translate(161.30,622.49) scale(0.92,1)" font-size="6.30" text-anchor="middle" fill="#1a1a1a" stroke="#1a1a1a" stroke-width="0.25">P</text>
<circle cx="190.3" cy="620.4" r="5.8" fill="#F6CF12" stroke="#7E5E10" stroke-width="1.0"/>
<text transform="translate(190.30,622.49) scale(0.92,1)" font-size="6.30" text-anchor="middle" fill="#1a1a1a" stroke="#1a1a1a" stroke-width="0.25">P</text>
<circle cx="160.3" cy="636.4" r="6.8" fill="#F8DA62" stroke="#B5743A" stroke-width="0.9"/>
<text transform="translate(160.30,640.14) scale(0.92,1)" font-size="11.83" text-anchor="middle" fill="#111">P</text>
<circle cx="160.3" cy="655.4" r="6.8" fill="#F8DA62" stroke="#B5743A" stroke-width="0.9"/>
<text transform="translate(160.30,659.14) scale(0.92,1)" font-size="11.83" text-anchor="middle" fill="#111">P</text>
<circle cx="194.0" cy="636.6" r="6.8" fill="#F8DA62" stroke="#B5743A" stroke-width="0.9"/>
<text transform="translate(194.00,640.34) scale(0.92,1)" font-size="11.83" text-anchor="middle" fill="#111">P</text>
<circle cx="194.0" cy="655.6" r="6.8" fill="#F8DA62" stroke="#B5743A" stroke-width="0.9"/>
<text transform="translate(194.00,659.34) scale(0.92,1)" font-size="11.83" text-anchor="middle" fill="#111">P</text>
<line x1="187.8" y1="596.7" x2="192.6" y2="596.7" stroke="#C24E1C" stroke-width="1.0"/>
<text transform="translate(192.80,598.90) scale(0.92,1)" font-size="7.07" font-weight="bold" fill="#F0A532" stroke="#F0A532" stroke-width="0.35">Y392</text>
<text transform="translate(197.40,622.60) scale(0.92,1)" font-size="7.50" font-weight="bold" fill="#C63AA0" stroke="#C63AA0" stroke-width="0.35">Y516</text>
<text transform="translate(201.40,658.80) scale(0.92,1)" font-size="7.61" font-weight="bold" fill="#EE8A2E" stroke="#EE8A2E" stroke-width="0.35">Y706</text>
<path d="M212.6 592.3 L220.8 592.3 L220.8 624.4 L212.6 624.4" fill="none" stroke="#8A2656" stroke-width="1.7"/>
<text transform="translate(224.20,621.50) scale(0.92,1)" font-size="7.50" font-weight="bold" fill="#8E2B5C" stroke="#8E2B5C" stroke-width="0.25">Duplication</text>
<text transform="translate(224.20,629.10) scale(0.92,1)" font-size="7.50" font-weight="bold" fill="#8E2B5C" stroke="#8E2B5C" stroke-width="0.25">(A388-T528)</text>
<rect x="106.4" y="617.6" width="32.4" height="17.0" fill="#EEF1F8" stroke="#8EA9DA" stroke-width="1.3" rx="8.5"/>
<rect x="106.4" y="659.6" width="32.4" height="17.2" fill="#EEF1F8" stroke="#8EA9DA" stroke-width="1.3" rx="8.6"/>
<text x="122.6" y="629.2" font-size="8.6" text-anchor="middle" fill="#1a1a1a" textLength="15.5" lengthAdjust="spacingAndGlyphs" stroke="#1a1a1a" stroke-width="0.2">SHC</text>
<text x="122.4" y="671.2" font-size="8.6" text-anchor="middle" fill="#1a1a1a" textLength="19" lengthAdjust="spacingAndGlyphs" stroke="#1a1a1a" stroke-width="0.2">FRS2</text>
<line x1="122.9" y1="637.6" x2="122.9" y2="656.2" stroke="#D8453F" stroke-width="1.3"/>
<line x1="119.2" y1="637.6" x2="126.4" y2="637.6" stroke="#D8453F" stroke-width="1.3"/>
<line x1="119.2" y1="656.2" x2="126.4" y2="656.2" stroke="#D8453F" stroke-width="1.3"/>
<line x1="126.6" y1="646.8" x2="152.5" y2="627.0" stroke="#111" stroke-width="1.0"/>
<line x1="126.6" y1="646.8" x2="181.0" y2="626.0" stroke="#111" stroke-width="1.0"/>
<path d="M155.6 624.6 L148.6 626.0 L152.0 630.4 Z" fill="#111"/>
<path d="M184.4 624.8 L177.6 623.6 L179.4 628.8 Z" fill="#111"/>
<text transform="translate(122.60,687.80) scale(0.92,1)" font-size="8.70" text-anchor="middle" fill="#111" stroke="#111" stroke-width="0.2">Competitive binding</text>
<text transform="translate(122.60,696.20) scale(0.92,1)" font-size="8.70" text-anchor="middle" fill="#111" stroke="#111" stroke-width="0.2">for Y516</text>
<line x1="122.6" y1="704.0" x2="122.6" y2="719.0" stroke="#111" stroke-width="1.5" stroke-dasharray="3,2.6"/>
<path d="M118.8 718.0 L126.4 718.0 L122.6 725.0 Z" fill="#111"/>
<text transform="translate(123.70,736.00) scale(0.92,1)" font-size="8.70" text-anchor="middle" fill="#111" stroke="#111" stroke-width="0.2">MAPK signalling</text>
<line x1="176.3" y1="696.9" x2="176.3" y2="735.0" stroke="#111" stroke-width="1.2"/>
<path d="M172.3 734.0 L180.3 734.0 L176.3 742.6 Z" fill="#111"/>
<text transform="translate(175.30,753.20) scale(0.92,1)" font-size="9.78" text-anchor="middle" fill="#111" stroke="#111" stroke-width="0.2">Downstream</text>
<text transform="translate(175.30,763.00) scale(0.92,1)" font-size="9.78" text-anchor="middle" fill="#111" stroke="#111" stroke-width="0.2">signaling</text>
<circle cx="290.7" cy="498.1" r="8.2" fill="#fff" stroke="#333" stroke-width="0.9"/>
<text transform="translate(290.70,501.60) scale(0.92,1)" font-size="10.87" text-anchor="middle" fill="#222">1</text>
<circle cx="372.0" cy="498.1" r="8.2" fill="#fff" stroke="#333" stroke-width="0.9"/>
<text transform="translate(372.00,501.60) scale(0.92,1)" font-size="10.87" text-anchor="middle" fill="#222">2</text>
<circle cx="448.4" cy="498.4" r="8.2" fill="#fff" stroke="#333" stroke-width="0.9"/>
<text transform="translate(448.40,501.90) scale(0.92,1)" font-size="10.87" text-anchor="middle" fill="#222">3</text>
<line x1="309.1" y1="586" x2="309.1" y2="617.5" stroke="#2F62A8" stroke-width="4.0"/>
<line x1="309.1" y1="497.3" x2="309.1" y2="529.3" stroke="#2F62A8" stroke-width="3.6"/>
<rect x="306.5" y="496.3" width="5.2" height="4.5" fill="#7EA2CD" stroke="#2F62A8" stroke-width="0.7" rx="0.7"/>
<circle cx="309.1" cy="505.40000000000003" r="2.55" fill="#7EA2CD" stroke="#2F62A8" stroke-width="0.7"/>
<circle cx="309.1" cy="511.0" r="2.55" fill="#7EA2CD" stroke="#2F62A8" stroke-width="0.7"/>
<circle cx="309.1" cy="516.7" r="2.55" fill="#7EA2CD" stroke="#2F62A8" stroke-width="0.7"/>
<rect x="306.5" y="521.0" width="5.2" height="4.6" fill="#7EA2CD" stroke="#2F62A8" stroke-width="0.7" rx="0.7"/>
<line x1="309.1" y1="552" x2="309.1" y2="565" stroke="#2F62A8" stroke-width="1.8"/>
<path d="M307.60 534.67 A10.8 10.8 0 1 0 307.60 551.93" fill="none" stroke="#3C6BA9" stroke-width="7.3" stroke-linecap="round"/>
<circle cx="308.3217802778246" cy="533.7163738794325" r="4.75" fill="#3C6BA9" stroke="none" stroke-width="1"/>
<circle cx="308.3217802778246" cy="552.8836261205674" r="4.75" fill="#3C6BA9" stroke="none" stroke-width="1"/>
<path d="M307.60 534.67 A10.8 10.8 0 1 0 307.60 551.93" fill="none" stroke="#7EA2CD" stroke-width="5.5" stroke-linecap="round"/>
<circle cx="308.3217802778246" cy="533.7163738794325" r="3.9" fill="#7EA2CD" stroke="none" stroke-width="1"/>
<circle cx="308.3217802778246" cy="552.8836261205674" r="3.9" fill="#7EA2CD" stroke="none" stroke-width="1"/>
<path d="M307.60 567.87 A10.8 10.8 0 1 0 307.60 585.13" fill="none" stroke="#3C6BA9" stroke-width="7.3" stroke-linecap="round"/>
<circle cx="308.3217802778246" cy="566.9163738794325" r="4.75" fill="#3C6BA9" stroke="none" stroke-width="1"/>
<circle cx="308.3217802778246" cy="586.0836261205675" r="4.75" fill="#3C6BA9" stroke="none" stroke-width="1"/>
<path d="M307.60 567.87 A10.8 10.8 0 1 0 307.60 585.13" fill="none" stroke="#7EA2CD" stroke-width="5.5" stroke-linecap="round"/>
<circle cx="308.3217802778246" cy="566.9163738794325" r="3.9" fill="#7EA2CD" stroke="none" stroke-width="1"/>
<circle cx="308.3217802778246" cy="586.0836261205675" r="3.9" fill="#7EA2CD" stroke="none" stroke-width="1"/>
<path d="M309.5 624.5 L316.6 617.4 L318.2 621.4 L312.5 626.5 Z" fill="#8B1E45" stroke="none" stroke-width="1"/>
<rect x="316.6" y="617.3" width="13.8" height="4.3" fill="#F2BEDB" stroke="none" stroke-width="1"/>
<line x1="323.8" y1="621.5" x2="323.8" y2="623.6" stroke="#F2BEDB" stroke-width="0.8"/>
<text transform="translate(323.80,629.20) scale(0.92,1)" font-size="6.52" text-anchor="middle" fill="#F2BEDB">TM</text>
<line x1="332.0" y1="666" x2="332.0" y2="705.0" stroke="#2F62A8" stroke-width="4.0"/>
<rect x="327.9" y="629.3" width="8.3" height="39.7" fill="#7EA2CD" stroke="#3C6BA9" stroke-width="0.8" rx="4.1"/>
<rect x="330.0" y="617.3" width="3.0" height="4.5" fill="#8B1E45" stroke="none" stroke-width="1"/>
<circle cx="304.4" cy="620.6" r="5.7" fill="#F6CF12" stroke="#7E5E10" stroke-width="1.0"/>
<text transform="translate(304.40,622.65) scale(0.92,1)" font-size="6.20" text-anchor="middle" fill="#1a1a1a" stroke="#1a1a1a" stroke-width="0.25">P</text>
<circle cx="309.1" cy="631.1" r="5.7" fill="#F6CF12" stroke="#7E5E10" stroke-width="1.0"/>
<text transform="translate(309.10,633.15) scale(0.92,1)" font-size="6.20" text-anchor="middle" fill="#1a1a1a" stroke="#1a1a1a" stroke-width="0.25">P</text>
<circle cx="334.6" cy="623.9" r="5.8" fill="#F6CF12" stroke="#7E5E10" stroke-width="1.0"/>
<text transform="translate(334.60,625.99) scale(0.92,1)" font-size="6.30" text-anchor="middle" fill="#1a1a1a" stroke="#1a1a1a" stroke-width="0.25">P</text>
<circle cx="327.8" cy="640.8" r="6.6" fill="#F8DA62" stroke="#B5743A" stroke-width="0.9"/>
<text transform="translate(327.80,644.43) scale(0.92,1)" font-size="11.48" text-anchor="middle" fill="#111">P</text>
<circle cx="327.8" cy="659.6" r="6.6" fill="#F8DA62" stroke="#B5743A" stroke-width="0.9"/>
<text transform="translate(327.80,663.23) scale(0.92,1)" font-size="11.48" text-anchor="middle" fill="#111">P</text>
<text transform="translate(297.80,620.50) scale(0.92,1)" font-size="7.39" text-anchor="end" font-weight="bold" fill="#C63AA0" stroke="#C63AA0" stroke-width="0.3">Y516</text>
<text transform="translate(302.00,634.60) scale(0.92,1)" font-size="7.39" text-anchor="end" font-weight="bold" fill="#5BC3DF" stroke="#5BC3DF" stroke-width="0.3">Y534</text>
<text transform="translate(341.50,626.40) scale(0.92,1)" font-size="7.39" font-weight="bold" fill="#5CB85C" stroke="#5CB85C" stroke-width="0.3">Y658</text>
<line x1="390.4" y1="586" x2="390.4" y2="614.0" stroke="#2F62A8" stroke-width="4.0"/>
<line x1="390.4" y1="497.3" x2="390.4" y2="529.3" stroke="#2F62A8" stroke-width="3.6"/>
<rect x="387.79999999999995" y="496.3" width="5.2" height="4.5" fill="#7EA2CD" stroke="#2F62A8" stroke-width="0.7" rx="0.7"/>
<circle cx="390.4" cy="505.40000000000003" r="2.55" fill="#7EA2CD" stroke="#2F62A8" stroke-width="0.7"/>
<circle cx="390.4" cy="511.0" r="2.55" fill="#7EA2CD" stroke="#2F62A8" stroke-width="0.7"/>
<circle cx="390.4" cy="516.7" r="2.55" fill="#7EA2CD" stroke="#2F62A8" stroke-width="0.7"/>
<rect x="387.79999999999995" y="521.0" width="5.2" height="4.6" fill="#7EA2CD" stroke="#2F62A8" stroke-width="0.7" rx="0.7"/>
<line x1="390.4" y1="552" x2="390.4" y2="565" stroke="#2F62A8" stroke-width="1.8"/>
<path d="M388.90 534.67 A10.8 10.8 0 1 0 388.90 551.93" fill="none" stroke="#3C6BA9" stroke-width="7.3" stroke-linecap="round"/>
<circle cx="389.62178027782454" cy="533.7163738794325" r="4.75" fill="#3C6BA9" stroke="none" stroke-width="1"/>
<circle cx="389.62178027782454" cy="552.8836261205674" r="4.75" fill="#3C6BA9" stroke="none" stroke-width="1"/>
<path d="M388.90 534.67 A10.8 10.8 0 1 0 388.90 551.93" fill="none" stroke="#7EA2CD" stroke-width="5.5" stroke-linecap="round"/>
<circle cx="389.62178027782454" cy="533.7163738794325" r="3.9" fill="#7EA2CD" stroke="none" stroke-width="1"/>
<circle cx="389.62178027782454" cy="552.8836261205674" r="3.9" fill="#7EA2CD" stroke="none" stroke-width="1"/>
<path d="M388.90 567.87 A10.8 10.8 0 1 0 388.90 585.13" fill="none" stroke="#3C6BA9" stroke-width="7.3" stroke-linecap="round"/>
<circle cx="389.62178027782454" cy="566.9163738794325" r="4.75" fill="#3C6BA9" stroke="none" stroke-width="1"/>
<circle cx="389.62178027782454" cy="586.0836261205675" r="4.75" fill="#3C6BA9" stroke="none" stroke-width="1"/>
<path d="M388.90 567.87 A10.8 10.8 0 1 0 388.90 585.13" fill="none" stroke="#7EA2CD" stroke-width="5.5" stroke-linecap="round"/>
<circle cx="389.62178027782454" cy="566.9163738794325" r="3.9" fill="#7EA2CD" stroke="none" stroke-width="1"/>
<circle cx="389.62178027782454" cy="586.0836261205675" r="3.9" fill="#7EA2CD" stroke="none" stroke-width="1"/>
<path d="M389.8 621.5 L396.6 610.4 L400.8 610.4 L394.6 623.0 Z" fill="#8B1E45" stroke="none" stroke-width="1"/>
<rect x="399.0" y="610.4" width="12.5" height="3.8" fill="#F2BEDB" stroke="none" stroke-width="1"/>
<path d="M411.0 610.4 L414.0 610.4 L416.0 613.0 L416.0 617.0 L411.0 614.2 Z" fill="#8B1E45" stroke="none" stroke-width="1"/>
<line x1="413.7" y1="662" x2="413.7" y2="701.1" stroke="#2F62A8" stroke-width="4.0"/>
<rect x="409.8" y="625.8" width="7.6" height="38.7" fill="#7EA2CD" stroke="#3C6BA9" stroke-width="0.8" rx="3.8"/>
<circle cx="385.7" cy="617.7" r="5.7" fill="#F6CF12" stroke="#7E5E10" stroke-width="1.0"/>
<text transform="translate(385.70,619.75) scale(0.92,1)" font-size="6.20" text-anchor="middle" fill="#1a1a1a" stroke="#1a1a1a" stroke-width="0.25">P</text>
<circle cx="390.4" cy="628.7" r="5.7" fill="#F6CF12" stroke="#7E5E10" stroke-width="1.0"/>
<text transform="translate(390.40,630.75) scale(0.92,1)" font-size="6.20" text-anchor="middle" fill="#1a1a1a" stroke="#1a1a1a" stroke-width="0.25">P</text>
<circle cx="415.9" cy="619.2" r="5.7" fill="#F6CF12" stroke="#7E5E10" stroke-width="1.0"/>
<text transform="translate(415.90,621.25) scale(0.92,1)" font-size="6.20" text-anchor="middle" fill="#1a1a1a" stroke="#1a1a1a" stroke-width="0.25">P</text>
<circle cx="409.3" cy="638.2" r="6.6" fill="#F8DA62" stroke="#B5743A" stroke-width="0.9"/>
<text transform="translate(409.30,641.83) scale(0.92,1)" font-size="11.48" text-anchor="middle" fill="#111">P</text>
<circle cx="409.3" cy="655.7" r="6.6" fill="#F8DA62" stroke="#B5743A" stroke-width="0.9"/>
<text transform="translate(409.30,659.33) scale(0.92,1)" font-size="11.48" text-anchor="middle" fill="#111">P</text>
<line x1="466.8" y1="586" x2="466.8" y2="613.0" stroke="#2F62A8" stroke-width="4.0"/>
<line x1="497.1" y1="586" x2="497.1" y2="613.0" stroke="#2F62A8" stroke-width="4.0"/>
<line x1="466.8" y1="497.3" x2="466.8" y2="529.3" stroke="#2F62A8" stroke-width="3.6"/>
<rect x="464.2" y="496.3" width="5.2" height="4.5" fill="#7EA2CD" stroke="#2F62A8" stroke-width="0.7" rx="0.7"/>
<circle cx="466.8" cy="505.40000000000003" r="2.55" fill="#7EA2CD" stroke="#2F62A8" stroke-width="0.7"/>
<circle cx="466.8" cy="511.0" r="2.55" fill="#7EA2CD" stroke="#2F62A8" stroke-width="0.7"/>
<circle cx="466.8" cy="516.7" r="2.55" fill="#7EA2CD" stroke="#2F62A8" stroke-width="0.7"/>
<rect x="464.2" y="521.0" width="5.2" height="4.6" fill="#7EA2CD" stroke="#2F62A8" stroke-width="0.7" rx="0.7"/>
<line x1="466.8" y1="552" x2="466.8" y2="565" stroke="#2F62A8" stroke-width="1.8"/>
<path d="M465.30 534.67 A10.8 10.8 0 1 0 465.30 551.93" fill="none" stroke="#3C6BA9" stroke-width="7.3" stroke-linecap="round"/>
<circle cx="466.0217802778246" cy="533.7163738794325" r="4.75" fill="#3C6BA9" stroke="none" stroke-width="1"/>
<circle cx="466.0217802778246" cy="552.8836261205674" r="4.75" fill="#3C6BA9" stroke="none" stroke-width="1"/>
<path d="M465.30 534.67 A10.8 10.8 0 1 0 465.30 551.93" fill="none" stroke="#7EA2CD" stroke-width="5.5" stroke-linecap="round"/>
<circle cx="466.0217802778246" cy="533.7163738794325" r="3.9" fill="#7EA2CD" stroke="none" stroke-width="1"/>
<circle cx="466.0217802778246" cy="552.8836261205674" r="3.9" fill="#7EA2CD" stroke="none" stroke-width="1"/>
<path d="M465.30 567.87 A10.8 10.8 0 1 0 465.30 585.13" fill="none" stroke="#3C6BA9" stroke-width="7.3" stroke-linecap="round"/>
<circle cx="466.0217802778246" cy="566.9163738794325" r="4.75" fill="#3C6BA9" stroke="none" stroke-width="1"/>
<circle cx="466.0217802778246" cy="586.0836261205675" r="4.75" fill="#3C6BA9" stroke="none" stroke-width="1"/>
<path d="M465.30 567.87 A10.8 10.8 0 1 0 465.30 585.13" fill="none" stroke="#7EA2CD" stroke-width="5.5" stroke-linecap="round"/>
<circle cx="466.0217802778246" cy="566.9163738794325" r="3.9" fill="#7EA2CD" stroke="none" stroke-width="1"/>
<circle cx="466.0217802778246" cy="586.0836261205675" r="3.9" fill="#7EA2CD" stroke="none" stroke-width="1"/>
<line x1="497.1" y1="497.3" x2="497.1" y2="529.3" stroke="#2F62A8" stroke-width="3.6"/>
<rect x="494.5" y="496.3" width="5.2" height="4.5" fill="#7EA2CD" stroke="#2F62A8" stroke-width="0.7" rx="0.7"/>
<circle cx="497.1" cy="505.40000000000003" r="2.55" fill="#7EA2CD" stroke="#2F62A8" stroke-width="0.7"/>
<circle cx="497.1" cy="511.0" r="2.55" fill="#7EA2CD" stroke="#2F62A8" stroke-width="0.7"/>
<circle cx="497.1" cy="516.7" r="2.55" fill="#7EA2CD" stroke="#2F62A8" stroke-width="0.7"/>
<rect x="494.5" y="521.0" width="5.2" height="4.6" fill="#7EA2CD" stroke="#2F62A8" stroke-width="0.7" rx="0.7"/>
<line x1="497.1" y1="552" x2="497.1" y2="565" stroke="#2F62A8" stroke-width="1.8"/>
<path d="M498.60 534.67 A10.8 10.8 0 1 1 498.60 551.93" fill="none" stroke="#3C6BA9" stroke-width="7.3" stroke-linecap="round"/>
<circle cx="497.87821972217546" cy="533.7163738794325" r="4.75" fill="#3C6BA9" stroke="none" stroke-width="1"/>
<circle cx="497.87821972217546" cy="552.8836261205674" r="4.75" fill="#3C6BA9" stroke="none" stroke-width="1"/>
<path d="M498.60 534.67 A10.8 10.8 0 1 1 498.60 551.93" fill="none" stroke="#7EA2CD" stroke-width="5.5" stroke-linecap="round"/>
<circle cx="497.87821972217546" cy="533.7163738794325" r="3.9" fill="#7EA2CD" stroke="none" stroke-width="1"/>
<circle cx="497.87821972217546" cy="552.8836261205674" r="3.9" fill="#7EA2CD" stroke="none" stroke-width="1"/>
<path d="M498.60 567.87 A10.8 10.8 0 1 1 498.60 585.13" fill="none" stroke="#3C6BA9" stroke-width="7.3" stroke-linecap="round"/>
<circle cx="497.87821972217546" cy="566.9163738794325" r="4.75" fill="#3C6BA9" stroke="none" stroke-width="1"/>
<circle cx="497.87821972217546" cy="586.0836261205675" r="4.75" fill="#3C6BA9" stroke="none" stroke-width="1"/>
<path d="M498.60 567.87 A10.8 10.8 0 1 1 498.60 585.13" fill="none" stroke="#7EA2CD" stroke-width="5.5" stroke-linecap="round"/>
<circle cx="497.87821972217546" cy="566.9163738794325" r="3.9" fill="#7EA2CD" stroke="none" stroke-width="1"/>
<circle cx="497.87821972217546" cy="586.0836261205675" r="3.9" fill="#7EA2CD" stroke="none" stroke-width="1"/>
<path d="M465.5 614.5 L471.5 607.4 L476.0 607.4 L471.0 615.0 Z" fill="#8B1E45" stroke="none" stroke-width="1"/>
<rect x="474.5" y="607.8" width="14.5" height="4.6" fill="#F2BEDB" stroke="none" stroke-width="1"/>
<path d="M487.5 607.4 L492.0 607.4 L498.5 614.5 L493.0 615.0 Z" fill="#8B1E45" stroke="none" stroke-width="1"/>
<line x1="474.0" y1="662" x2="474.0" y2="701.1" stroke="#2F62A8" stroke-width="4.0"/>
<line x1="489.7" y1="662" x2="489.7" y2="701.1" stroke="#2F62A8" stroke-width="4.0"/>
<rect x="470.6" y="625.9" width="7.6" height="38.6" fill="#7EA2CD" stroke="#3C6BA9" stroke-width="0.8" rx="3.8"/>
<rect x="485.6" y="625.9" width="7.6" height="38.6" fill="#7EA2CD" stroke="#3C6BA9" stroke-width="0.8" rx="3.8"/>
<circle cx="462.1" cy="617.7" r="5.6" fill="#F6CF12" stroke="#7E5E10" stroke-width="1.0"/>
<text transform="translate(462.10,619.72) scale(0.92,1)" font-size="6.09" text-anchor="middle" fill="#1a1a1a" stroke="#1a1a1a" stroke-width="0.25">P</text>
<circle cx="471.5" cy="619.8" r="5.6" fill="#F6CF12" stroke="#7E5E10" stroke-width="1.0"/>
<text transform="translate(471.50,621.82) scale(0.92,1)" font-size="6.09" text-anchor="middle" fill="#1a1a1a" stroke="#1a1a1a" stroke-width="0.25">P</text>
<circle cx="466.4" cy="628.5" r="5.6" fill="#F6CF12" stroke="#7E5E10" stroke-width="1.0"/>
<text transform="translate(466.40,630.52) scale(0.92,1)" font-size="6.09" text-anchor="middle" fill="#1a1a1a" stroke="#1a1a1a" stroke-width="0.25">P</text>
<circle cx="491.7" cy="619.8" r="5.6" fill="#F6CF12" stroke="#7E5E10" stroke-width="1.0"/>
<text transform="translate(491.70,621.82) scale(0.92,1)" font-size="6.09" text-anchor="middle" fill="#1a1a1a" stroke="#1a1a1a" stroke-width="0.25">P</text>
<circle cx="501.8" cy="617.7" r="5.6" fill="#F6CF12" stroke="#7E5E10" stroke-width="1.0"/>
<text transform="translate(501.80,619.72) scale(0.92,1)" font-size="6.09" text-anchor="middle" fill="#1a1a1a" stroke="#1a1a1a" stroke-width="0.25">P</text>
<circle cx="497.4" cy="628.5" r="5.6" fill="#F6CF12" stroke="#7E5E10" stroke-width="1.0"/>
<text transform="translate(497.40,630.52) scale(0.92,1)" font-size="6.09" text-anchor="middle" fill="#1a1a1a" stroke="#1a1a1a" stroke-width="0.25">P</text>
<circle cx="467.7" cy="638.7" r="6.6" fill="#F8DA62" stroke="#B5743A" stroke-width="0.9"/>
<text transform="translate(467.70,642.33) scale(0.92,1)" font-size="11.48" text-anchor="middle" fill="#111">P</text>
<circle cx="467.7" cy="655.7" r="6.6" fill="#F8DA62" stroke="#B5743A" stroke-width="0.9"/>
<text transform="translate(467.70,659.33) scale(0.92,1)" font-size="11.48" text-anchor="middle" fill="#111">P</text>
<circle cx="495.7" cy="638.7" r="6.6" fill="#F8DA62" stroke="#B5743A" stroke-width="0.9"/>
<text transform="translate(495.70,642.33) scale(0.92,1)" font-size="11.48" text-anchor="middle" fill="#111">P</text>
<circle cx="495.7" cy="655.7" r="6.6" fill="#F8DA62" stroke="#B5743A" stroke-width="0.9"/>
<text transform="translate(495.70,659.33) scale(0.92,1)" font-size="11.48" text-anchor="middle" fill="#111">P</text>
<line x1="477.5" y1="631.2" x2="486.8" y2="631.2" stroke="#7a7a7a" stroke-width="1.2" stroke-dasharray="2.5,2"/>
<path d="M474.6 631.2 L478.2 629.4 L478.2 633.0 Z" fill="#7a7a7a"/>
<path d="M490.0 631.2 L486.4 629.4 L486.4 633.0 Z" fill="#7a7a7a"/>
<text transform="translate(504.50,520.90) scale(0.92,1)" font-size="8.80" font-style="italic" fill="#666">dimerization</text>
<text transform="translate(508.80,632.50) scale(0.92,1)" font-size="8.80" font-style="italic" fill="#666">transphosphorylation</text>
<clipPath id="inset"><rect x="343.3" y="665.4" width="59" height="44.7"/></clipPath>
<rect x="342.7" y="664.8" width="60.2" height="45.9" fill="#fff" stroke="#8FAADC" stroke-width="1.4"/>
<g clip-path="url(#inset)">
<line x1="362.2" y1="664" x2="362.2" y2="680" stroke="#2F62A8" stroke-width="5.0"/>
<path d="M361.5 691.5 L369.5 675.2 L374.0 675.2 L367.0 693.5 Z" fill="#8B1E45" stroke="none" stroke-width="1"/>
<rect x="372.0" y="675.2" width="17.8" height="4.8" fill="#F2BEDB" stroke="none" stroke-width="1"/>
<path d="M389.0 675.2 L391.5 675.2 L393.0 677.5 L393.0 681.0 L389.0 680.0 Z" fill="#8B1E45" stroke="none" stroke-width="1"/>
<rect x="385.2" y="694.0" width="9.6" height="30" fill="#7EA2CD" stroke="#3C6BA9" stroke-width="0.9" rx="4.8"/>
<circle cx="385.2" cy="707.8" r="8.0" fill="#F8DA62" stroke="#B5743A" stroke-width="0.9"/>
<text transform="translate(385.20,712.20) scale(0.92,1)" font-size="13.91" text-anchor="middle" fill="#111">P</text>
<circle cx="357.6" cy="684.4" r="7.4" fill="#F6CF12" stroke="#7E5E10" stroke-width="1.0"/>
<text transform="translate(357.60,687.06) scale(0.92,1)" font-size="8.04" text-anchor="middle" fill="#1a1a1a" stroke="#1a1a1a" stroke-width="0.25">P</text>
<circle cx="362.6" cy="697.3" r="7.4" fill="#F6CF12" stroke="#7E5E10" stroke-width="1.0"/>
<text transform="translate(362.60,699.96) scale(0.92,1)" font-size="8.04" text-anchor="middle" fill="#1a1a1a" stroke="#1a1a1a" stroke-width="0.25">P</text>
<circle cx="393.1" cy="686.5" r="7.4" fill="#F6CF12" stroke="#7E5E10" stroke-width="1.0"/>
<text transform="translate(393.10,689.16) scale(0.92,1)" font-size="8.04" text-anchor="middle" fill="#1a1a1a" stroke="#1a1a1a" stroke-width="0.25">P</text>
</g>
<line x1="370.5" y1="687.8" x2="381.5" y2="687.8" stroke="#111" stroke-width="1.2" stroke-dasharray="2.4,2"/>
<path d="M367.6 687.8 L371.4 686.0 L371.4 689.6 Z" fill="#111"/>
<path d="M384.4 687.8 L380.6 686.0 L380.6 689.6 Z" fill="#111"/>
<text transform="translate(372.70,720.80) scale(0.92,1)" font-size="8.64" text-anchor="middle" font-style="italic" fill="#666">autophosphorylation</text>
<line x1="372.8" y1="663.6" x2="344.5727161862111" y2="640.8637379615378" stroke="#777" stroke-width="1.5" stroke-dasharray="3,2.2"/>
<path d="M339.9 637.1 L346.7 638.2 L342.4 643.5 Z" fill="#777"/>
<line x1="372.8" y1="663.6" x2="395.75023105503215" y2="639.633522551387" stroke="#777" stroke-width="1.5" stroke-dasharray="3,2.2"/>
<path d="M399.9 635.3 L398.2 642.0 L393.3 637.3 Z" fill="#777"/>
<line x1="281.1" y1="659.2" x2="298.78631831132935" y2="641.2714033556388" stroke="#777" stroke-width="1.5" stroke-dasharray="3,2.2"/>
<path d="M303.0 637.0 L301.2 643.7 L296.4 638.9 Z" fill="#777"/>
<line x1="285.0" y1="660.5" x2="321.169072732203" y2="633.8583903289626" stroke="#777" stroke-width="1.5" stroke-dasharray="3,2.2"/>
<path d="M326.0 630.3 L323.2 636.6 L319.2 631.1 Z" fill="#777"/>
<text transform="translate(280.20,667.30) scale(0.92,1)" font-size="8.70" text-anchor="middle" font-style="italic" fill="#666">additional</text>
<text transform="translate(280.20,675.30) scale(0.92,1)" font-size="8.70" text-anchor="middle" font-style="italic" fill="#666">docking sites</text>
<line x1="331.7" y1="713.0" x2="331.7" y2="751.0" stroke="#111" stroke-width="1.2"/>
<path d="M327.7 750.0 L335.7 750.0 L331.7 758.5 Z" fill="#111"/>
<line x1="413.6" y1="713.0" x2="413.6" y2="751.0" stroke="#111" stroke-width="1.2"/>
<path d="M409.6 750.0 L417.6 750.0 L413.6 758.5 Z" fill="#111"/>
<line x1="482.0" y1="713.0" x2="482.0" y2="751.0" stroke="#111" stroke-width="1.2"/>
<path d="M478.0 750.0 L486.0 750.0 L482.0 758.5 Z" fill="#111"/>
</svg>
</body></html>
